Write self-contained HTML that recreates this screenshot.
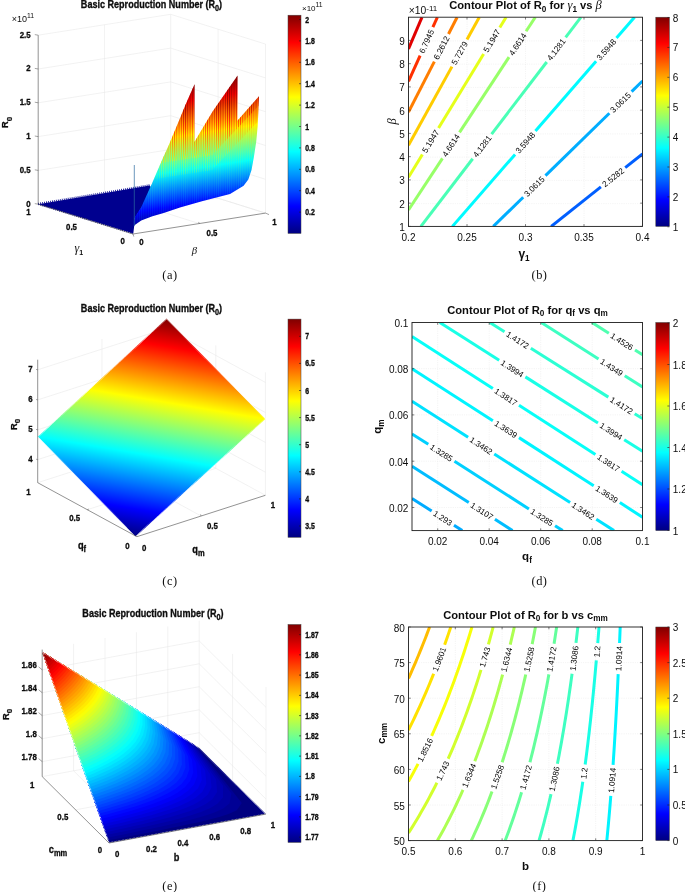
<!DOCTYPE html><html><head><meta charset="utf-8"><style>html,body{margin:0;padding:0;background:#fff;}body{width:685px;height:892px;overflow:hidden;font-family:'Liberation Sans',sans-serif;}</style></head><body><svg width="685" height="892" viewBox="0 0 685 892" style="display:block;filter:blur(0.3px);font-family:'Liberation Sans',sans-serif;"><defs>
<linearGradient id="cb" x1="0" y1="1" x2="0" y2="0"><stop offset="0.0000" stop-color="#000080"/><stop offset="0.1250" stop-color="#0000ff"/><stop offset="0.2500" stop-color="#0080ff"/><stop offset="0.3750" stop-color="#00ffff"/><stop offset="0.5000" stop-color="#80ff80"/><stop offset="0.6250" stop-color="#ffff00"/><stop offset="0.7500" stop-color="#ff8000"/><stop offset="0.8750" stop-color="#ff0000"/><stop offset="1.0000" stop-color="#800000"/></linearGradient>
</defs>
<line x1="38.20" y1="204.20" x2="170.70" y2="183.30" stroke="#e4e4e4" stroke-width="0.50" />
<line x1="170.70" y1="183.30" x2="265.50" y2="213.10" stroke="#e4e4e4" stroke-width="0.50" />
<line x1="85.60" y1="219.10" x2="218.10" y2="198.20" stroke="#e4e4e4" stroke-width="0.50" />
<line x1="199.25" y1="223.55" x2="104.45" y2="193.75" stroke="#e4e4e4" stroke-width="0.50" />
<line x1="170.70" y1="183.30" x2="170.70" y2="14.30" stroke="#e4e4e4" stroke-width="0.50" />
<line x1="265.50" y1="213.10" x2="265.50" y2="44.10" stroke="#e4e4e4" stroke-width="0.50" />
<line x1="104.45" y1="193.75" x2="104.45" y2="24.75" stroke="#e4e4e4" stroke-width="0.50" />
<line x1="218.10" y1="198.20" x2="218.10" y2="29.20" stroke="#e4e4e4" stroke-width="0.50" />
<line x1="38.20" y1="204.20" x2="170.70" y2="183.30" stroke="#e4e4e4" stroke-width="0.50" />
<line x1="170.70" y1="183.30" x2="265.50" y2="213.10" stroke="#e4e4e4" stroke-width="0.50" />
<line x1="38.20" y1="170.40" x2="170.70" y2="149.50" stroke="#e4e4e4" stroke-width="0.50" />
<line x1="170.70" y1="149.50" x2="265.50" y2="179.30" stroke="#e4e4e4" stroke-width="0.50" />
<line x1="38.20" y1="136.60" x2="170.70" y2="115.70" stroke="#e4e4e4" stroke-width="0.50" />
<line x1="170.70" y1="115.70" x2="265.50" y2="145.50" stroke="#e4e4e4" stroke-width="0.50" />
<line x1="38.20" y1="102.80" x2="170.70" y2="81.90" stroke="#e4e4e4" stroke-width="0.50" />
<line x1="170.70" y1="81.90" x2="265.50" y2="111.70" stroke="#e4e4e4" stroke-width="0.50" />
<line x1="38.20" y1="69.00" x2="170.70" y2="48.10" stroke="#e4e4e4" stroke-width="0.50" />
<line x1="170.70" y1="48.10" x2="265.50" y2="77.90" stroke="#e4e4e4" stroke-width="0.50" />
<line x1="38.20" y1="35.20" x2="170.70" y2="14.30" stroke="#e4e4e4" stroke-width="0.50" />
<line x1="170.70" y1="14.30" x2="265.50" y2="44.10" stroke="#e4e4e4" stroke-width="0.50" />
<polygon points="38.20,204.20 149.60,185.50 158.00,196.00 141.00,208.50 134.60,218.50 134.20,226.00 133.30,233.60" fill="#00008f" />
<path d="M38.2 204.2 L133.3 233.6" stroke="#00008f" stroke-width="1.6" stroke-dasharray="0.8 1.2" fill="none"/>
<path d="M38.2 203.6 L149.6 185.0" stroke="#00008f" stroke-width="1.6" stroke-dasharray="0.8 1.2" fill="none"/>
<linearGradient id="ga" gradientUnits="userSpaceOnUse" x1="133.00" y1="229.80" x2="112.37" y2="94.96"><stop offset="0.0000" stop-color="#000080"/><stop offset="0.1250" stop-color="#0000ff"/><stop offset="0.2500" stop-color="#0080ff"/><stop offset="0.3750" stop-color="#00ffff"/><stop offset="0.5000" stop-color="#80ff80"/><stop offset="0.6250" stop-color="#ffff00"/><stop offset="0.7500" stop-color="#ff8000"/><stop offset="0.8750" stop-color="#ff0000"/><stop offset="1.0000" stop-color="#800000"/></linearGradient>
<polygon points="133.40,223.00 134.50,217.40 141.20,207.30 152.40,182.60 162.50,159.00 168.10,146.70 174.90,130.40 179.60,119.30 185.50,104.70 194.50,84.20 194.40,142.00 212.60,111.50 237.60,75.50 237.40,120.80 259.00,96.30 257.70,126.10 256.20,141.80 253.80,157.50 251.50,170.00 248.30,179.40 243.60,185.70 235.80,190.60 230.00,193.90 201.90,201.20 180.00,207.40 163.70,212.90 152.40,216.30 141.20,220.40 133.40,226.00" fill="url(#ga)" />
<linearGradient id="ga2" gradientUnits="userSpaceOnUse" x1="133.00" y1="255.80" x2="112.37" y2="120.96"><stop offset="0.0000" stop-color="#000080"/><stop offset="0.1250" stop-color="#0000ff"/><stop offset="0.2500" stop-color="#0080ff"/><stop offset="0.3750" stop-color="#00ffff"/><stop offset="0.5000" stop-color="#80ff80"/><stop offset="0.6250" stop-color="#ffff00"/><stop offset="0.7500" stop-color="#ff8000"/><stop offset="0.8750" stop-color="#ff0000"/><stop offset="1.0000" stop-color="#800000"/></linearGradient>
<clipPath id="csA"><polygon points="133.40,223.00 134.50,217.40 141.20,207.30 152.40,182.60 162.50,159.00 168.10,146.70 174.90,130.40 179.60,119.30 185.50,104.70 194.50,84.20 194.40,142.00 212.60,111.50 237.60,75.50 237.40,120.80 259.00,96.30 257.70,126.10 256.20,141.80 253.80,157.50 251.50,170.00 248.30,179.40 243.60,185.70 235.80,190.60 230.00,193.90 201.90,201.20 180.00,207.40 163.70,212.90 152.40,216.30 141.20,220.40 133.40,226.00"/></clipPath>
<clipPath id="csB"><polygon points="130,242.04 262,102.12 262,60 130,60"/></clipPath>
<clipPath id="csC"><polygon points="130,257.04 262,117.12 262,60 130,60"/></clipPath>
<clipPath id="csD"><polygon points="128,167.90 264,147.10 264,60 128,60"/></clipPath>
<clipPath id="csE"><polygon points="128,183.08 264,162.28 264,60 128,60"/></clipPath>
<pattern id="stp" patternUnits="userSpaceOnUse" x="150" y="0" width="2.2" height="200"><rect x="0" y="0" width="0.9" height="200" fill="#fff"/></pattern>
<mask id="stm" maskUnits="userSpaceOnUse" x="120" y="50" width="160" height="200"><rect x="120" y="50" width="160" height="200" fill="url(#stp)"/></mask>
<g clip-path="url(#csA)"><g mask="url(#stm)">
<g clip-path="url(#csD)"><rect x="130" y="60" width="135" height="175" fill="url(#ga2)" opacity="0.7" clip-path="url(#csB)"/></g>
<g clip-path="url(#csE)"><rect x="130" y="60" width="135" height="175" fill="url(#ga2)" opacity="0.3" clip-path="url(#csC)"/></g>
<rect x="130" y="60" width="135" height="175" fill="url(#ga2)" opacity="0.15"/>
</g></g>
<line x1="134.30" y1="165.00" x2="134.30" y2="226.00" stroke="#2b6aa0" stroke-width="0.70" />
<line x1="38.20" y1="204.20" x2="38.20" y2="35.20" stroke="#4a4a4a" stroke-width="0.60" />
<line x1="38.20" y1="204.20" x2="133.00" y2="234.00" stroke="#4a4a4a" stroke-width="0.60" />
<line x1="133.00" y1="234.00" x2="265.50" y2="213.10" stroke="#4a4a4a" stroke-width="0.60" />
<line x1="34.80" y1="203.60" x2="38.20" y2="204.20" stroke="#4a4a4a" stroke-width="0.50" />
<text transform="translate(30.60 206.65) scale(0.985 1.19)" x="0" y="0" text-anchor="end" fill="#0d0d0d" stroke="#0d0d0d" stroke-width="0.28" style="font-size:8.00px;font-weight:bold;" >0</text>
<line x1="34.80" y1="169.80" x2="38.20" y2="170.40" stroke="#4a4a4a" stroke-width="0.50" />
<text transform="translate(30.60 172.85) scale(0.985 1.19)" x="0" y="0" text-anchor="end" fill="#0d0d0d" stroke="#0d0d0d" stroke-width="0.28" style="font-size:8.00px;font-weight:bold;" >0.5</text>
<line x1="34.80" y1="136.00" x2="38.20" y2="136.60" stroke="#4a4a4a" stroke-width="0.50" />
<text transform="translate(30.60 139.05) scale(0.985 1.19)" x="0" y="0" text-anchor="end" fill="#0d0d0d" stroke="#0d0d0d" stroke-width="0.28" style="font-size:8.00px;font-weight:bold;" >1</text>
<line x1="34.80" y1="102.20" x2="38.20" y2="102.80" stroke="#4a4a4a" stroke-width="0.50" />
<text transform="translate(30.60 105.25) scale(0.985 1.19)" x="0" y="0" text-anchor="end" fill="#0d0d0d" stroke="#0d0d0d" stroke-width="0.28" style="font-size:8.00px;font-weight:bold;" >1.5</text>
<line x1="34.80" y1="68.40" x2="38.20" y2="69.00" stroke="#4a4a4a" stroke-width="0.50" />
<text transform="translate(30.60 71.45) scale(0.985 1.19)" x="0" y="0" text-anchor="end" fill="#0d0d0d" stroke="#0d0d0d" stroke-width="0.28" style="font-size:8.00px;font-weight:bold;" >2</text>
<line x1="34.80" y1="34.60" x2="38.20" y2="35.20" stroke="#4a4a4a" stroke-width="0.50" />
<text transform="translate(30.60 37.65) scale(0.985 1.19)" x="0" y="0" text-anchor="end" fill="#0d0d0d" stroke="#0d0d0d" stroke-width="0.28" style="font-size:8.00px;font-weight:bold;" >2.5</text>
<text x="11.80" y="22.00" text-anchor="start" fill="#0d0d0d" style="font-size:9.00px;" >×10<tspan dy="-4.2" font-size="6.8">11</tspan></text>
<text transform="translate(8.3 122.5) rotate(-90)" text-anchor="middle" fill="#0d0d0d" stroke="#0d0d0d" stroke-width="0.25" style="font-weight:bold;font-size:9.4px">R<tspan dy="3.6" font-size="8">0</tspan></text>
<text transform="translate(28.50 215.05) scale(0.985 1.19)" x="0" y="0" text-anchor="middle" fill="#0d0d0d" stroke="#0d0d0d" stroke-width="0.28" style="font-size:8.00px;font-weight:bold;" >1</text>
<text transform="translate(71.50 229.55) scale(0.985 1.19)" x="0" y="0" text-anchor="middle" fill="#0d0d0d" stroke="#0d0d0d" stroke-width="0.28" style="font-size:8.00px;font-weight:bold;" >0.5</text>
<text transform="translate(122.60 244.35) scale(0.985 1.19)" x="0" y="0" text-anchor="middle" fill="#0d0d0d" stroke="#0d0d0d" stroke-width="0.28" style="font-size:8.00px;font-weight:bold;" >0</text>
<text transform="translate(141.50 244.55) scale(0.985 1.19)" x="0" y="0" text-anchor="middle" fill="#0d0d0d" stroke="#0d0d0d" stroke-width="0.28" style="font-size:8.00px;font-weight:bold;" >0</text>
<text transform="translate(212.00 235.55) scale(0.985 1.19)" x="0" y="0" text-anchor="middle" fill="#0d0d0d" stroke="#0d0d0d" stroke-width="0.28" style="font-size:8.00px;font-weight:bold;" >0.5</text>
<text transform="translate(274.50 224.55) scale(0.985 1.19)" x="0" y="0" text-anchor="middle" fill="#0d0d0d" stroke="#0d0d0d" stroke-width="0.28" style="font-size:8.00px;font-weight:bold;" >1</text>
<line x1="85.60" y1="219.10" x2="87.10" y2="218.70" stroke="#4a4a4a" stroke-width="0.50" />
<line x1="199.25" y1="223.55" x2="198.65" y2="221.95" stroke="#4a4a4a" stroke-width="0.50" />
<line x1="265.50" y1="213.10" x2="269.00" y2="214.60" stroke="#4a4a4a" stroke-width="0.50" />
<line x1="133.00" y1="234.00" x2="133.80" y2="236.60" stroke="#4a4a4a" stroke-width="0.50" />
<text x="78.80" y="251.60" text-anchor="middle" fill="#0d0d0d" style="font-size:8.00px;" ><tspan style="font-family:'Liberation Serif',serif;font-style:italic;font-size:12px">γ</tspan><tspan dy="3.4" font-size="7" font-weight="bold">1</tspan></text>
<text x="194.50" y="254.00" text-anchor="middle" fill="#0d0d0d" style="font-size:8.00px;" ><tspan style="font-family:'Liberation Serif',serif;font-style:italic;font-size:10.8px">β</tspan></text>
<text transform="translate(151.50 7.55) scale(0.985 1.19)" x="0" y="0" text-anchor="middle" fill="#0d0d0d" stroke="#0d0d0d" stroke-width="0.28" style="font-size:9.20px;font-weight:bold;" >Basic Reproduction Number (R<tspan dy="2.6" font-size="7.4">0</tspan><tspan dy="-2.6">)</tspan></text>
<text x="170.00" y="279.20" text-anchor="middle" fill="#0d0d0d" style="font-size:12.40px;font-family:'Liberation Serif',serif;" letter-spacing="0.5">(a)</text>
<rect x="288.00" y="15.20" width="13.00" height="218.20" fill="url(#cb)"/>
<rect x="288.00" y="15.20" width="13.00" height="218.20" fill="none" stroke="#404040" stroke-width="0.5"/>
<line x1="299.00" y1="19.50" x2="301.00" y2="19.50" stroke="#1a1a1a" stroke-width="0.60" />
<text transform="translate(305.20 22.58) scale(0.985 1.19)" x="0" y="0" text-anchor="start" fill="#0d0d0d" stroke="#0d0d0d" stroke-width="0.28" style="font-size:7.04px;font-weight:bold;" >2</text>
<line x1="299.00" y1="40.90" x2="301.00" y2="40.90" stroke="#1a1a1a" stroke-width="0.60" />
<text transform="translate(305.20 43.98) scale(0.985 1.19)" x="0" y="0" text-anchor="start" fill="#0d0d0d" stroke="#0d0d0d" stroke-width="0.28" style="font-size:7.04px;font-weight:bold;" >1.8</text>
<line x1="299.00" y1="62.30" x2="301.00" y2="62.30" stroke="#1a1a1a" stroke-width="0.60" />
<text transform="translate(305.20 65.38) scale(0.985 1.19)" x="0" y="0" text-anchor="start" fill="#0d0d0d" stroke="#0d0d0d" stroke-width="0.28" style="font-size:7.04px;font-weight:bold;" >1.6</text>
<line x1="299.00" y1="83.70" x2="301.00" y2="83.70" stroke="#1a1a1a" stroke-width="0.60" />
<text transform="translate(305.20 86.78) scale(0.985 1.19)" x="0" y="0" text-anchor="start" fill="#0d0d0d" stroke="#0d0d0d" stroke-width="0.28" style="font-size:7.04px;font-weight:bold;" >1.4</text>
<line x1="299.00" y1="105.10" x2="301.00" y2="105.10" stroke="#1a1a1a" stroke-width="0.60" />
<text transform="translate(305.20 108.18) scale(0.985 1.19)" x="0" y="0" text-anchor="start" fill="#0d0d0d" stroke="#0d0d0d" stroke-width="0.28" style="font-size:7.04px;font-weight:bold;" >1.2</text>
<line x1="299.00" y1="126.50" x2="301.00" y2="126.50" stroke="#1a1a1a" stroke-width="0.60" />
<text transform="translate(305.20 129.58) scale(0.985 1.19)" x="0" y="0" text-anchor="start" fill="#0d0d0d" stroke="#0d0d0d" stroke-width="0.28" style="font-size:7.04px;font-weight:bold;" >1</text>
<line x1="299.00" y1="147.90" x2="301.00" y2="147.90" stroke="#1a1a1a" stroke-width="0.60" />
<text transform="translate(305.20 150.98) scale(0.985 1.19)" x="0" y="0" text-anchor="start" fill="#0d0d0d" stroke="#0d0d0d" stroke-width="0.28" style="font-size:7.04px;font-weight:bold;" >0.8</text>
<line x1="299.00" y1="169.30" x2="301.00" y2="169.30" stroke="#1a1a1a" stroke-width="0.60" />
<text transform="translate(305.20 172.38) scale(0.985 1.19)" x="0" y="0" text-anchor="start" fill="#0d0d0d" stroke="#0d0d0d" stroke-width="0.28" style="font-size:7.04px;font-weight:bold;" >0.6</text>
<line x1="299.00" y1="190.70" x2="301.00" y2="190.70" stroke="#1a1a1a" stroke-width="0.60" />
<text transform="translate(305.20 193.78) scale(0.985 1.19)" x="0" y="0" text-anchor="start" fill="#0d0d0d" stroke="#0d0d0d" stroke-width="0.28" style="font-size:7.04px;font-weight:bold;" >0.4</text>
<line x1="299.00" y1="212.10" x2="301.00" y2="212.10" stroke="#1a1a1a" stroke-width="0.60" />
<text transform="translate(305.20 215.18) scale(0.985 1.19)" x="0" y="0" text-anchor="start" fill="#0d0d0d" stroke="#0d0d0d" stroke-width="0.28" style="font-size:7.04px;font-weight:bold;" >0.2</text>
<text x="302.00" y="10.80" text-anchor="start" fill="#0d0d0d" style="font-size:8.00px;" >×10<tspan dy="-4.0" font-size="6.80">11</tspan></text>
<line x1="37.70" y1="482.70" x2="166.20" y2="441.30" stroke="#e4e4e4" stroke-width="0.50" />
<line x1="166.20" y1="441.30" x2="265.40" y2="495.30" stroke="#e4e4e4" stroke-width="0.50" />
<line x1="87.30" y1="509.70" x2="215.80" y2="468.30" stroke="#e4e4e4" stroke-width="0.50" />
<line x1="201.15" y1="516.00" x2="101.95" y2="462.00" stroke="#e4e4e4" stroke-width="0.50" />
<line x1="166.20" y1="441.30" x2="166.20" y2="318.30" stroke="#e4e4e4" stroke-width="0.50" />
<line x1="265.40" y1="495.30" x2="265.40" y2="372.30" stroke="#e4e4e4" stroke-width="0.50" />
<line x1="101.95" y1="462.00" x2="101.95" y2="339.00" stroke="#e4e4e4" stroke-width="0.50" />
<line x1="215.80" y1="468.30" x2="215.80" y2="345.30" stroke="#e4e4e4" stroke-width="0.50" />
<line x1="37.70" y1="459.60" x2="166.20" y2="418.20" stroke="#e4e4e4" stroke-width="0.50" />
<line x1="166.20" y1="418.20" x2="265.40" y2="472.20" stroke="#e4e4e4" stroke-width="0.50" />
<line x1="37.70" y1="429.80" x2="166.20" y2="388.40" stroke="#e4e4e4" stroke-width="0.50" />
<line x1="166.20" y1="388.40" x2="265.40" y2="442.40" stroke="#e4e4e4" stroke-width="0.50" />
<line x1="37.70" y1="399.90" x2="166.20" y2="358.50" stroke="#e4e4e4" stroke-width="0.50" />
<line x1="166.20" y1="358.50" x2="265.40" y2="412.50" stroke="#e4e4e4" stroke-width="0.50" />
<line x1="37.70" y1="369.80" x2="166.20" y2="328.40" stroke="#e4e4e4" stroke-width="0.50" />
<line x1="166.20" y1="328.40" x2="265.40" y2="382.40" stroke="#e4e4e4" stroke-width="0.50" />
<linearGradient id="gc" gradientUnits="userSpaceOnUse" x1="135.50" y1="536.80" x2="172.12" y2="319.53"><stop offset="0.0000" stop-color="#000080"/><stop offset="0.1250" stop-color="#0000ff"/><stop offset="0.2500" stop-color="#0080ff"/><stop offset="0.3750" stop-color="#00ffff"/><stop offset="0.5000" stop-color="#80ff80"/><stop offset="0.6250" stop-color="#ffff00"/><stop offset="0.7500" stop-color="#ff8000"/><stop offset="0.8750" stop-color="#ff0000"/><stop offset="1.0000" stop-color="#800000"/></linearGradient>
<polygon points="166.60,318.60 265.60,418.90 135.50,536.80 37.70,436.80" fill="url(#gc)" />
<path d="M37.70 436.80 L166.60 318.60" stroke="#fff" stroke-width="1.5" stroke-dasharray="0.55 0.85" fill="none"/>
<path d="M166.60 318.60 L265.60 418.90" stroke="#fff" stroke-width="1.5" stroke-dasharray="0.55 0.85" fill="none"/>
<path d="M265.60 418.90 L135.50 536.80" stroke="#fff" stroke-width="1.5" stroke-dasharray="0.55 0.85" fill="none"/>
<path d="M135.50 536.80 L37.70 436.80" stroke="#fff" stroke-width="1.5" stroke-dasharray="0.55 0.85" fill="none"/>
<line x1="37.70" y1="482.70" x2="37.70" y2="359.70" stroke="#4a4a4a" stroke-width="0.60" />
<line x1="37.70" y1="482.70" x2="136.90" y2="536.70" stroke="#4a4a4a" stroke-width="0.60" />
<line x1="136.90" y1="536.70" x2="265.40" y2="495.30" stroke="#4a4a4a" stroke-width="0.60" />
<line x1="36.10" y1="459.20" x2="37.70" y2="459.60" stroke="#4a4a4a" stroke-width="0.50" />
<text transform="translate(32.70 461.75) scale(0.985 1.19)" x="0" y="0" text-anchor="end" fill="#0d0d0d" stroke="#0d0d0d" stroke-width="0.28" style="font-size:8.00px;font-weight:bold;" >4</text>
<line x1="36.10" y1="429.40" x2="37.70" y2="429.80" stroke="#4a4a4a" stroke-width="0.50" />
<text transform="translate(32.70 431.95) scale(0.985 1.19)" x="0" y="0" text-anchor="end" fill="#0d0d0d" stroke="#0d0d0d" stroke-width="0.28" style="font-size:8.00px;font-weight:bold;" >5</text>
<line x1="36.10" y1="399.50" x2="37.70" y2="399.90" stroke="#4a4a4a" stroke-width="0.50" />
<text transform="translate(32.70 402.05) scale(0.985 1.19)" x="0" y="0" text-anchor="end" fill="#0d0d0d" stroke="#0d0d0d" stroke-width="0.28" style="font-size:8.00px;font-weight:bold;" >6</text>
<line x1="36.10" y1="369.40" x2="37.70" y2="369.80" stroke="#4a4a4a" stroke-width="0.50" />
<text transform="translate(32.70 371.95) scale(0.985 1.19)" x="0" y="0" text-anchor="end" fill="#0d0d0d" stroke="#0d0d0d" stroke-width="0.28" style="font-size:8.00px;font-weight:bold;" >7</text>
<text transform="translate(16.5 424.5) rotate(-90)" text-anchor="middle" fill="#0d0d0d" stroke="#0d0d0d" stroke-width="0.25" style="font-weight:bold;font-size:9.4px">R<tspan dy="3.6" font-size="8">0</tspan></text>
<text transform="translate(28.40 494.55) scale(0.985 1.19)" x="0" y="0" text-anchor="middle" fill="#0d0d0d" stroke="#0d0d0d" stroke-width="0.28" style="font-size:8.00px;font-weight:bold;" >1</text>
<text transform="translate(74.60 521.35) scale(0.985 1.19)" x="0" y="0" text-anchor="middle" fill="#0d0d0d" stroke="#0d0d0d" stroke-width="0.28" style="font-size:8.00px;font-weight:bold;" >0.5</text>
<text transform="translate(127.40 549.35) scale(0.985 1.19)" x="0" y="0" text-anchor="middle" fill="#0d0d0d" stroke="#0d0d0d" stroke-width="0.28" style="font-size:8.00px;font-weight:bold;" >0</text>
<text transform="translate(144.20 550.55) scale(0.985 1.19)" x="0" y="0" text-anchor="middle" fill="#0d0d0d" stroke="#0d0d0d" stroke-width="0.28" style="font-size:8.00px;font-weight:bold;" >0</text>
<text transform="translate(212.40 528.55) scale(0.985 1.19)" x="0" y="0" text-anchor="middle" fill="#0d0d0d" stroke="#0d0d0d" stroke-width="0.28" style="font-size:8.00px;font-weight:bold;" >0.5</text>
<text transform="translate(273.00 507.55) scale(0.985 1.19)" x="0" y="0" text-anchor="middle" fill="#0d0d0d" stroke="#0d0d0d" stroke-width="0.28" style="font-size:8.00px;font-weight:bold;" >1</text>
<line x1="87.30" y1="509.70" x2="88.80" y2="509.10" stroke="#4a4a4a" stroke-width="0.50" />
<line x1="201.15" y1="516.00" x2="200.55" y2="514.40" stroke="#4a4a4a" stroke-width="0.50" />
<text transform="translate(82.00 549.05) scale(0.985 1.19)" x="0" y="0" text-anchor="middle" fill="#0d0d0d" stroke="#0d0d0d" stroke-width="0.28" style="font-size:9.40px;font-weight:bold;" >q<tspan dy="2.4" font-size="7.6">f</tspan></text>
<text transform="translate(198.50 553.05) scale(0.985 1.19)" x="0" y="0" text-anchor="middle" fill="#0d0d0d" stroke="#0d0d0d" stroke-width="0.28" style="font-size:9.40px;font-weight:bold;" >q<tspan dy="2.4" font-size="7.6">m</tspan></text>
<text transform="translate(151.50 312.05) scale(0.985 1.19)" x="0" y="0" text-anchor="middle" fill="#0d0d0d" stroke="#0d0d0d" stroke-width="0.28" style="font-size:9.20px;font-weight:bold;" >Basic Reproduction Number (R<tspan dy="2.6" font-size="7.4">0</tspan><tspan dy="-2.6">)</tspan></text>
<text x="170.00" y="584.70" text-anchor="middle" fill="#0d0d0d" style="font-size:12.40px;font-family:'Liberation Serif',serif;" letter-spacing="0.5">(c)</text>
<rect x="288.00" y="319.10" width="13.00" height="218.20" fill="url(#cb)"/>
<rect x="288.00" y="319.10" width="13.00" height="218.20" fill="none" stroke="#404040" stroke-width="0.5"/>
<line x1="299.00" y1="336.30" x2="301.00" y2="336.30" stroke="#1a1a1a" stroke-width="0.60" />
<text transform="translate(305.20 339.38) scale(0.985 1.19)" x="0" y="0" text-anchor="start" fill="#0d0d0d" stroke="#0d0d0d" stroke-width="0.28" style="font-size:7.04px;font-weight:bold;" >7</text>
<line x1="299.00" y1="363.40" x2="301.00" y2="363.40" stroke="#1a1a1a" stroke-width="0.60" />
<text transform="translate(305.20 366.48) scale(0.985 1.19)" x="0" y="0" text-anchor="start" fill="#0d0d0d" stroke="#0d0d0d" stroke-width="0.28" style="font-size:7.04px;font-weight:bold;" >6.5</text>
<line x1="299.00" y1="390.50" x2="301.00" y2="390.50" stroke="#1a1a1a" stroke-width="0.60" />
<text transform="translate(305.20 393.58) scale(0.985 1.19)" x="0" y="0" text-anchor="start" fill="#0d0d0d" stroke="#0d0d0d" stroke-width="0.28" style="font-size:7.04px;font-weight:bold;" >6</text>
<line x1="299.00" y1="417.60" x2="301.00" y2="417.60" stroke="#1a1a1a" stroke-width="0.60" />
<text transform="translate(305.20 420.68) scale(0.985 1.19)" x="0" y="0" text-anchor="start" fill="#0d0d0d" stroke="#0d0d0d" stroke-width="0.28" style="font-size:7.04px;font-weight:bold;" >5.5</text>
<line x1="299.00" y1="444.70" x2="301.00" y2="444.70" stroke="#1a1a1a" stroke-width="0.60" />
<text transform="translate(305.20 447.78) scale(0.985 1.19)" x="0" y="0" text-anchor="start" fill="#0d0d0d" stroke="#0d0d0d" stroke-width="0.28" style="font-size:7.04px;font-weight:bold;" >5</text>
<line x1="299.00" y1="471.80" x2="301.00" y2="471.80" stroke="#1a1a1a" stroke-width="0.60" />
<text transform="translate(305.20 474.88) scale(0.985 1.19)" x="0" y="0" text-anchor="start" fill="#0d0d0d" stroke="#0d0d0d" stroke-width="0.28" style="font-size:7.04px;font-weight:bold;" >4.5</text>
<line x1="299.00" y1="498.90" x2="301.00" y2="498.90" stroke="#1a1a1a" stroke-width="0.60" />
<text transform="translate(305.20 501.98) scale(0.985 1.19)" x="0" y="0" text-anchor="start" fill="#0d0d0d" stroke="#0d0d0d" stroke-width="0.28" style="font-size:7.04px;font-weight:bold;" >4</text>
<line x1="299.00" y1="526.00" x2="301.00" y2="526.00" stroke="#1a1a1a" stroke-width="0.60" />
<text transform="translate(305.20 529.08) scale(0.985 1.19)" x="0" y="0" text-anchor="start" fill="#0d0d0d" stroke="#0d0d0d" stroke-width="0.28" style="font-size:7.04px;font-weight:bold;" >3.5</text>
<line x1="42.20" y1="776.60" x2="199.20" y2="747.70" stroke="#e4e4e4" stroke-width="0.50" />
<line x1="199.20" y1="747.70" x2="266.00" y2="814.10" stroke="#e4e4e4" stroke-width="0.50" />
<line x1="140.40" y1="837.22" x2="73.60" y2="770.82" stroke="#e4e4e4" stroke-width="0.50" />
<line x1="73.60" y1="770.82" x2="73.60" y2="643.82" stroke="#e4e4e4" stroke-width="0.50" />
<line x1="171.80" y1="831.44" x2="105.00" y2="765.04" stroke="#e4e4e4" stroke-width="0.50" />
<line x1="105.00" y1="765.04" x2="105.00" y2="638.04" stroke="#e4e4e4" stroke-width="0.50" />
<line x1="203.20" y1="825.66" x2="136.40" y2="759.26" stroke="#e4e4e4" stroke-width="0.50" />
<line x1="136.40" y1="759.26" x2="136.40" y2="632.26" stroke="#e4e4e4" stroke-width="0.50" />
<line x1="234.60" y1="819.88" x2="167.80" y2="753.48" stroke="#e4e4e4" stroke-width="0.50" />
<line x1="167.80" y1="753.48" x2="167.80" y2="626.48" stroke="#e4e4e4" stroke-width="0.50" />
<line x1="75.60" y1="809.80" x2="232.60" y2="780.90" stroke="#e4e4e4" stroke-width="0.50" />
<line x1="232.60" y1="780.90" x2="232.60" y2="653.90" stroke="#e4e4e4" stroke-width="0.50" />
<line x1="199.20" y1="747.70" x2="199.20" y2="620.70" stroke="#e4e4e4" stroke-width="0.50" />
<line x1="266.00" y1="814.10" x2="266.00" y2="687.10" stroke="#e4e4e4" stroke-width="0.50" />
<line x1="42.20" y1="761.60" x2="199.20" y2="732.70" stroke="#e4e4e4" stroke-width="0.50" />
<line x1="199.20" y1="732.70" x2="266.00" y2="799.10" stroke="#e4e4e4" stroke-width="0.50" />
<line x1="42.20" y1="738.70" x2="199.20" y2="709.80" stroke="#e4e4e4" stroke-width="0.50" />
<line x1="199.20" y1="709.80" x2="266.00" y2="776.20" stroke="#e4e4e4" stroke-width="0.50" />
<line x1="42.20" y1="715.60" x2="199.20" y2="686.70" stroke="#e4e4e4" stroke-width="0.50" />
<line x1="199.20" y1="686.70" x2="266.00" y2="753.10" stroke="#e4e4e4" stroke-width="0.50" />
<line x1="42.20" y1="692.70" x2="199.20" y2="663.80" stroke="#e4e4e4" stroke-width="0.50" />
<line x1="199.20" y1="663.80" x2="266.00" y2="730.20" stroke="#e4e4e4" stroke-width="0.50" />
<line x1="42.20" y1="669.80" x2="199.20" y2="640.90" stroke="#e4e4e4" stroke-width="0.50" />
<line x1="199.20" y1="640.90" x2="266.00" y2="707.30" stroke="#e4e4e4" stroke-width="0.50" />
<polygon points="109.00,843.00 266.00,814.10 199.20,747.70 42.20,652.00" fill="#000080" />
<polygon points="108.1,840.3 42.2,652.0 197.0,746.4 241.8,803.1 236.8,810.2 228.5,814.1 219.2,817.0 209.5,819.6 199.6,821.9 189.6,824.1 179.5,826.3 169.4,828.3 159.2,830.4 149.0,832.4 138.8,834.4 128.6,836.4 118.3,838.4" fill="#000095"/>
<polygon points="107.1,837.7 42.2,652.0 194.8,745.0 231.4,793.4 229.5,803.5 222.8,808.8 214.5,812.5 205.5,815.6 196.1,818.3 186.6,820.7 176.8,823.1 167.0,825.3 157.1,827.4 147.2,829.6 137.2,831.6 127.2,833.7 117.2,835.7" fill="#0000a3"/>
<polygon points="106.2,835.0 42.2,652.0 192.7,743.7 223.1,785.7 223.0,797.5 217.4,803.8 210.0,808.2 201.6,811.7 192.7,814.7 183.6,817.4 174.2,819.9 164.7,822.2 155.1,824.5 145.4,826.7 135.6,828.8 125.9,830.9 116.1,833.0" fill="#0000b1"/>
<polygon points="105.3,832.4 42.2,652.0 190.5,742.4 216.1,779.5 217.1,792.1 212.4,799.2 205.7,804.1 197.8,807.9 189.4,811.2 180.6,814.1 171.6,816.7 162.3,819.2 153.0,821.6 143.6,823.9 134.1,826.1 124.5,828.2 114.9,830.3" fill="#0000bf"/>
<polygon points="104.4,829.7 42.2,652.0 188.3,741.1 210.1,774.2 211.6,787.2 207.7,794.8 201.5,800.1 194.2,804.3 186.2,807.8 177.7,810.8 169.0,813.6 160.0,816.2 151.0,818.7 141.8,821.0 132.5,823.3 123.2,825.5 113.8,827.6" fill="#0000cd"/>
<polygon points="103.4,827.1 42.2,652.0 186.1,739.7 205.2,770.8 206.4,784.1 202.2,792.0 195.7,797.7 188.0,802.1 179.5,805.9 170.7,809.2 161.5,812.1 152.1,814.9 142.6,817.6 132.9,820.1 123.2,822.5 113.3,824.8" fill="#0000dc"/>
<polygon points="102.5,824.4 42.2,652.0 183.9,738.4 200.5,766.7 201.8,780.0 198.0,788.2 192.0,794.1 184.6,798.7 176.6,802.6 168.0,806.1 159.2,809.2 150.0,812.0 140.7,814.7 131.3,817.3 121.8,819.7 112.2,822.1" fill="#0000ea"/>
<polygon points="101.6,821.8 42.2,652.0 181.8,737.1 196.1,763.0 197.4,776.1 194.0,784.5 188.4,790.6 181.4,795.4 173.7,799.5 165.4,803.0 156.8,806.2 148.0,809.2 138.9,811.9 129.7,814.5 120.4,817.0 111.0,819.4" fill="#0000f8"/>
<polygon points="100.7,819.1 42.2,652.0 179.6,735.7 192.0,759.7 193.3,772.5 190.2,781.0 184.9,787.2 178.2,792.2 170.8,796.4 162.8,800.0 154.5,803.3 145.9,806.3 137.1,809.1 128.2,811.8 119.1,814.3 109.9,816.8" fill="#0007ff"/>
<polygon points="99.7,816.5 42.2,652.0 177.4,734.4 188.2,756.6 189.5,769.2 186.5,777.6 181.5,784.0 175.1,789.0 168.0,793.3 160.3,797.1 152.2,800.4 143.9,803.5 135.3,806.4 126.6,809.1 117.7,811.6 108.8,814.1" fill="#0015ff"/>
<polygon points="98.8,813.8 42.2,652.0 175.2,733.1 185.0,754.8 185.5,767.4 182.0,776.0 176.4,782.5 169.5,787.7 161.9,792.1 153.6,796.0 145.0,799.5 136.1,802.7 127.0,805.7 117.7,808.5 108.3,811.2" fill="#0023ff"/>
<polygon points="97.9,811.2 42.2,652.0 173.0,731.8 181.5,752.0 181.9,764.3 178.6,772.9 173.3,779.4 166.7,784.7 159.3,789.2 151.3,793.1 142.9,796.7 134.3,799.9 125.4,803.0 116.4,805.8 107.2,808.6" fill="#0032ff"/>
<polygon points="96.9,808.5 42.2,652.0 170.9,730.4 178.2,749.4 178.5,761.4 175.3,769.9 170.2,776.4 163.8,781.7 156.7,786.3 149.0,790.3 140.9,793.9 132.5,797.2 123.8,800.3 115.0,803.1 106.0,805.9" fill="#0040ff"/>
<polygon points="96.0,805.9 42.2,652.0 168.7,729.1 175.1,746.9 175.2,758.5 172.1,766.9 167.2,773.5 161.1,778.8 154.2,783.4 146.7,787.5 138.8,791.1 130.6,794.4 122.2,797.5 113.6,800.5 104.9,803.2" fill="#004eff"/>
<polygon points="95.1,803.2 42.2,652.0 166.5,727.8 172.0,744.5 172.0,755.8 169.0,764.1 164.3,770.6 158.3,776.0 151.7,780.6 144.4,784.7 136.8,788.4 128.8,791.7 120.7,794.8 112.3,797.8 103.7,800.6" fill="#005cff"/>
<polygon points="94.2,800.6 42.2,652.0 164.3,726.4 169.2,743.3 168.6,754.6 165.0,763.0 159.6,769.7 153.1,775.2 145.8,779.9 137.9,784.1 129.7,787.9 121.1,791.4 112.3,794.6 103.3,797.7" fill="#006aff"/>
<polygon points="93.2,797.9 42.2,652.0 162.1,725.1 166.3,741.0 165.5,752.0 162.0,760.3 156.8,766.9 150.5,772.4 143.4,777.2 135.8,781.4 127.8,785.2 119.5,788.7 110.9,791.9 102.1,795.0" fill="#0078ff"/>
<polygon points="92.3,795.2 42.2,652.0 159.9,723.8 163.5,738.9 162.6,749.5 159.1,757.7 154.1,764.2 148.0,769.7 141.2,774.5 133.8,778.7 126.0,782.5 117.9,786.0 109.5,789.3 101.0,792.3" fill="#0087ff"/>
<polygon points="91.4,792.6 42.2,652.0 157.8,722.4 160.7,736.7 159.7,747.1 156.3,755.0 151.4,761.5 145.5,767.0 138.9,771.8 131.7,776.0 124.2,779.8 116.3,783.3 108.2,786.6 99.9,789.7" fill="#0095ff"/>
<polygon points="90.4,789.9 42.2,652.0 155.6,721.1 158.0,734.7 156.9,744.7 153.6,752.5 148.8,758.9 143.1,764.3 136.7,769.1 129.7,773.3 122.4,777.1 114.7,780.7 106.8,783.9 98.7,787.0" fill="#00a3ff"/>
<polygon points="89.5,787.3 42.2,652.0 153.4,719.8 155.4,733.7 153.6,743.8 149.7,751.8 144.3,758.4 137.9,763.9 130.8,768.8 123.2,773.1 115.2,777.1 106.9,780.7 98.3,784.1" fill="#00b1ff"/>
<polygon points="88.6,784.6 42.2,652.0 151.2,718.5 152.8,731.7 150.9,741.5 147.1,749.3 141.8,755.8 135.6,761.3 128.7,766.2 121.3,770.5 113.6,774.4 105.5,778.1 97.1,781.4" fill="#00bfff"/>
<polygon points="87.7,782.0 42.2,652.0 149.0,717.1 150.2,729.7 148.3,739.2 144.5,746.9 139.4,753.3 133.3,758.7 126.7,763.5 119.5,767.9 111.9,771.8 104.1,775.4 96.0,778.8" fill="#00cdff"/>
<polygon points="86.7,779.3 42.2,652.0 146.9,715.8 147.6,727.8 145.6,737.0 141.9,744.5 136.9,750.8 131.1,756.2 124.6,761.0 117.7,765.2 110.3,769.2 102.7,772.8 94.8,776.2" fill="#00dcff"/>
<polygon points="85.8,776.7 42.2,652.0 144.7,714.5 145.1,725.9 143.1,734.8 139.4,742.1 134.5,748.3 128.9,753.6 122.6,758.4 115.9,762.6 108.7,766.5 101.3,770.1 93.7,773.5" fill="#00eaff"/>
<polygon points="84.9,774.0 42.2,652.0 142.5,713.1 142.5,725.0 139.9,734.2 135.6,741.7 130.1,748.0 123.7,753.5 116.7,758.4 109.2,762.8 101.4,766.8 93.3,770.5" fill="#00f8ff"/>
<polygon points="84.0,771.4 42.2,652.0 140.3,711.8 140.1,723.1 137.4,732.0 133.2,739.4 127.8,745.6 121.6,751.0 114.8,755.8 107.6,760.2 100.0,764.2 92.1,767.9" fill="#07fff8"/>
<polygon points="83.0,768.7 42.2,652.0 138.1,710.5 137.6,721.3 134.9,729.9 130.8,737.1 125.5,743.2 119.6,748.5 113.0,753.3 106.0,757.6 98.6,761.6 90.9,765.3" fill="#15ffea"/>
<polygon points="82.1,766.1 42.2,652.0 136.0,709.2 135.2,719.5 132.5,727.8 128.4,734.8 123.3,740.8 117.5,746.1 111.2,750.8 104.4,755.1 97.2,759.0 89.8,762.6" fill="#23ffdc"/>
<polygon points="81.2,763.4 42.2,652.0 133.8,707.8 132.8,717.7 130.1,725.7 126.1,732.5 121.1,738.4 115.5,743.6 109.3,748.3 102.7,752.5 95.8,756.4 88.6,760.0" fill="#32ffcd"/>
<polygon points="80.2,760.8 42.2,652.0 131.6,706.5 130.2,716.8 126.9,725.2 122.2,732.3 116.6,738.4 110.2,743.8 103.3,748.6 95.9,753.0 88.2,757.0" fill="#40ffbf"/>
<polygon points="79.3,758.1 42.2,652.0 129.4,705.2 127.9,715.0 124.6,723.2 120.0,730.0 114.5,736.0 108.3,741.3 101.6,746.1 94.5,750.4 87.0,754.4" fill="#4effb1"/>
<polygon points="78.4,755.5 42.2,652.0 127.2,703.8 125.5,713.3 122.2,721.1 117.8,727.8 112.4,733.7 106.5,738.9 100.0,743.5 93.1,747.8 85.9,751.8" fill="#5cffa3"/>
<polygon points="77.5,752.8 42.2,652.0 125.1,702.5 123.2,711.5 119.9,719.1 115.6,725.6 110.4,731.3 104.6,736.4 98.3,741.0 91.7,745.2 84.7,749.2" fill="#6aff95"/>
<polygon points="76.5,750.2 42.2,652.0 122.9,701.2 120.9,709.8 117.7,717.1 113.4,723.4 108.4,729.0 102.8,734.0 96.7,738.5 90.3,742.7 83.5,746.5" fill="#78ff87"/>
<polygon points="75.6,747.5 42.2,652.0 120.7,699.9 118.7,708.1 115.4,715.1 111.2,721.3 106.4,726.7 100.9,731.6 95.1,736.0 88.9,740.1 82.4,743.9" fill="#87ff78"/>
<polygon points="74.7,744.8 42.2,652.0 118.5,698.5 116.0,707.3 112.2,714.7 107.4,721.2 101.8,726.9 95.6,732.0 89.0,736.6 82.0,740.9" fill="#95ff6a"/>
<polygon points="73.7,742.2 42.2,652.0 116.3,697.2 113.8,705.6 110.0,712.7 105.3,719.0 99.9,724.5 94.0,729.5 87.6,734.1 80.8,738.3" fill="#a3ff5c"/>
<polygon points="72.8,739.5 42.2,652.0 114.2,695.9 111.6,703.9 107.8,710.8 103.3,716.8 98.0,722.2 92.3,727.1 86.1,731.6 79.6,735.7" fill="#b1ff4e"/>
<polygon points="71.9,736.9 42.2,652.0 112.0,694.5 109.3,702.2 105.7,708.8 101.2,714.7 96.2,719.9 90.6,724.7 84.7,729.1 78.4,733.1" fill="#bfff40"/>
<polygon points="71.0,734.2 42.2,652.0 109.8,693.2 107.1,700.5 103.5,706.9 99.2,712.5 94.3,717.6 89.0,722.3 83.3,726.6 77.2,730.5" fill="#cdff32"/>
<polygon points="70.0,731.6 42.2,652.0 107.6,691.9 104.5,699.7 100.2,706.6 95.2,712.6 89.6,718.0 83.5,722.9 76.9,727.4" fill="#dcff23"/>
<polygon points="69.1,728.9 42.2,652.0 105.4,690.5 102.3,698.0 98.2,704.6 93.3,710.4 87.9,715.7 82.0,720.4 75.7,724.8" fill="#eaff15"/>
<polygon points="68.2,726.3 42.2,652.0 103.3,689.2 100.1,696.4 96.1,702.6 91.4,708.3 86.2,713.3 80.5,718.0 74.5,722.3" fill="#f8ff07"/>
<polygon points="67.2,723.6 42.2,652.0 101.1,687.9 97.9,694.7 94.0,700.7 89.5,706.1 84.5,711.0 79.1,715.5 73.3,719.7" fill="#fff800"/>
<polygon points="66.3,721.0 42.2,652.0 98.9,686.6 95.8,693.0 92.0,698.8 87.6,704.0 82.8,708.7 77.6,713.1 72.1,717.2" fill="#ffea00"/>
<polygon points="65.4,718.3 42.2,652.0 96.7,685.2 93.1,692.3 88.6,698.6 83.5,704.2 77.9,709.3 71.8,714.0" fill="#ffdc00"/>
<polygon points="64.5,715.7 42.2,652.0 94.5,683.9 90.9,690.6 86.6,696.6 81.7,702.0 76.3,706.9 70.6,711.5" fill="#ffcd00"/>
<polygon points="63.5,713.0 42.2,652.0 92.4,682.6 88.8,688.9 84.7,694.6 80.0,699.8 74.8,704.6 69.3,708.9" fill="#ffbf00"/>
<polygon points="62.6,710.4 42.2,652.0 90.2,681.2 86.7,687.3 82.7,692.7 78.2,697.6 73.3,702.2 68.1,706.4" fill="#ffb100"/>
<polygon points="61.7,707.7 42.2,652.0 88.0,679.9 84.6,685.6 80.8,690.7 76.5,695.5 71.9,699.8 66.9,703.9" fill="#ffa300"/>
<polygon points="60.8,705.1 42.2,652.0 85.8,678.6 81.9,684.9 77.3,690.6 72.2,695.8 66.6,700.6" fill="#ff9500"/>
<polygon points="59.8,702.4 42.2,652.0 83.6,677.3 79.8,683.2 75.4,688.6 70.6,693.6 65.4,698.2" fill="#ff8700"/>
<polygon points="58.9,699.8 42.2,652.0 81.5,675.9 77.8,681.5 73.6,686.6 69.0,691.3 64.1,695.7" fill="#ff7800"/>
<polygon points="58.0,697.1 42.2,652.0 79.3,674.6 75.7,679.8 71.8,684.6 67.5,689.1 62.9,693.2" fill="#ff6a00"/>
<polygon points="57.0,694.4 42.2,652.0 77.1,673.3 73.7,678.1 70.0,682.6 65.9,686.8 61.6,690.8" fill="#ff5c00"/>
<polygon points="56.1,691.8 42.2,652.0 74.9,671.9 70.9,677.5 66.3,682.7 61.4,687.4" fill="#ff4e00"/>
<polygon points="55.2,689.1 42.2,652.0 72.7,670.6 68.9,675.8 64.7,680.6 60.1,685.0" fill="#ff4000"/>
<polygon points="54.3,686.5 42.2,652.0 70.5,669.3 66.9,674.1 63.0,678.5 58.8,682.6" fill="#ff3200"/>
<polygon points="53.3,683.8 42.2,652.0 68.4,667.9 65.0,672.3 61.4,676.4 57.5,680.2" fill="#ff2300"/>
<polygon points="52.4,681.2 42.2,652.0 66.2,666.6 63.1,670.6 59.7,674.3 56.2,677.8" fill="#ff1500"/>
<polygon points="51.5,678.5 42.2,652.0 64.0,665.3 60.1,670.0 56.0,674.4" fill="#ff0700"/>
<polygon points="50.6,675.9 42.2,652.0 61.8,664.0 58.3,668.2 54.6,672.1" fill="#f80000"/>
<polygon points="49.6,673.2 42.2,652.0 59.6,662.6 56.5,666.4 53.2,669.9" fill="#ea0000"/>
<polygon points="48.7,670.6 42.2,652.0 57.5,661.3 54.7,664.5 51.8,667.6" fill="#dc0000"/>
<polygon points="47.8,667.9 42.2,652.0 55.3,660.0 52.9,662.7 50.4,665.4" fill="#cd0000"/>
<polygon points="46.8,665.3 42.2,652.0 53.1,658.6 51.1,660.9 49.0,663.1" fill="#bf0000"/>
<polygon points="45.9,662.6 42.2,652.0 50.9,657.3 49.3,659.1 47.6,660.9" fill="#b10000"/>
<polygon points="45.0,660.0 42.2,652.0 48.7,656.0 47.5,657.3 46.3,658.7" fill="#a30000"/>
<polygon points="44.1,657.3 42.2,652.0 46.6,654.7 45.7,655.6 44.9,656.4" fill="#950000"/>
<polygon points="43.1,654.7 42.2,652.0 44.4,653.3 44.0,653.8 43.5,654.2" fill="#870000"/>
<path d="M42.20 652.00 L199.20 747.70" stroke="#fff" stroke-width="1.5" stroke-dasharray="0.55 0.85" fill="none"/>
<path d="M199.20 747.70 L266.00 814.10" stroke="#fff" stroke-width="1.5" stroke-dasharray="0.55 0.85" fill="none"/>
<path d="M266.00 814.10 L109.00 843.00" stroke="#fff" stroke-width="1.5" stroke-dasharray="0.55 0.85" fill="none"/>
<path d="M109.00 843.00 L42.20 652.00" stroke="#fff" stroke-width="1.5" stroke-dasharray="0.55 0.85" fill="none"/>
<line x1="42.20" y1="776.60" x2="42.20" y2="649.60" stroke="#4a4a4a" stroke-width="0.60" />
<line x1="42.20" y1="776.60" x2="109.00" y2="843.00" stroke="#4a4a4a" stroke-width="0.60" />
<line x1="109.00" y1="843.00" x2="266.00" y2="814.10" stroke="#4a4a4a" stroke-width="0.60" />
<line x1="38.60" y1="758.60" x2="42.20" y2="761.60" stroke="#4a4a4a" stroke-width="0.50" />
<text transform="translate(36.80 760.25) scale(0.985 1.19)" x="0" y="0" text-anchor="end" fill="#0d0d0d" stroke="#0d0d0d" stroke-width="0.28" style="font-size:8.00px;font-weight:bold;" >1.78</text>
<line x1="38.60" y1="735.70" x2="42.20" y2="738.70" stroke="#4a4a4a" stroke-width="0.50" />
<text transform="translate(36.80 737.35) scale(0.985 1.19)" x="0" y="0" text-anchor="end" fill="#0d0d0d" stroke="#0d0d0d" stroke-width="0.28" style="font-size:8.00px;font-weight:bold;" >1.8</text>
<line x1="38.60" y1="712.60" x2="42.20" y2="715.60" stroke="#4a4a4a" stroke-width="0.50" />
<text transform="translate(36.80 714.25) scale(0.985 1.19)" x="0" y="0" text-anchor="end" fill="#0d0d0d" stroke="#0d0d0d" stroke-width="0.28" style="font-size:8.00px;font-weight:bold;" >1.82</text>
<line x1="38.60" y1="689.70" x2="42.20" y2="692.70" stroke="#4a4a4a" stroke-width="0.50" />
<text transform="translate(36.80 691.35) scale(0.985 1.19)" x="0" y="0" text-anchor="end" fill="#0d0d0d" stroke="#0d0d0d" stroke-width="0.28" style="font-size:8.00px;font-weight:bold;" >1.84</text>
<line x1="38.60" y1="666.80" x2="42.20" y2="669.80" stroke="#4a4a4a" stroke-width="0.50" />
<text transform="translate(36.80 668.45) scale(0.985 1.19)" x="0" y="0" text-anchor="end" fill="#0d0d0d" stroke="#0d0d0d" stroke-width="0.28" style="font-size:8.00px;font-weight:bold;" >1.86</text>
<text transform="translate(8.5 714.5) rotate(-90)" text-anchor="middle" fill="#0d0d0d" stroke="#0d0d0d" stroke-width="0.25" style="font-weight:bold;font-size:9.4px">R<tspan dy="3.6" font-size="8">0</tspan></text>
<text transform="translate(32.20 787.75) scale(0.985 1.19)" x="0" y="0" text-anchor="middle" fill="#0d0d0d" stroke="#0d0d0d" stroke-width="0.28" style="font-size:8.00px;font-weight:bold;" >1</text>
<text transform="translate(62.80 820.45) scale(0.985 1.19)" x="0" y="0" text-anchor="middle" fill="#0d0d0d" stroke="#0d0d0d" stroke-width="0.28" style="font-size:8.00px;font-weight:bold;" >0.5</text>
<text transform="translate(100.00 853.05) scale(0.985 1.19)" x="0" y="0" text-anchor="middle" fill="#0d0d0d" stroke="#0d0d0d" stroke-width="0.28" style="font-size:8.00px;font-weight:bold;" >0</text>
<text transform="translate(117.30 857.35) scale(0.985 1.19)" x="0" y="0" text-anchor="middle" fill="#0d0d0d" stroke="#0d0d0d" stroke-width="0.28" style="font-size:8.00px;font-weight:bold;" >0</text>
<text transform="translate(151.50 851.55) scale(0.985 1.19)" x="0" y="0" text-anchor="middle" fill="#0d0d0d" stroke="#0d0d0d" stroke-width="0.28" style="font-size:8.00px;font-weight:bold;" >0.2</text>
<text transform="translate(182.90 845.55) scale(0.985 1.19)" x="0" y="0" text-anchor="middle" fill="#0d0d0d" stroke="#0d0d0d" stroke-width="0.28" style="font-size:8.00px;font-weight:bold;" >0.4</text>
<text transform="translate(214.60 839.85) scale(0.985 1.19)" x="0" y="0" text-anchor="middle" fill="#0d0d0d" stroke="#0d0d0d" stroke-width="0.28" style="font-size:8.00px;font-weight:bold;" >0.6</text>
<text transform="translate(245.70 834.25) scale(0.985 1.19)" x="0" y="0" text-anchor="middle" fill="#0d0d0d" stroke="#0d0d0d" stroke-width="0.28" style="font-size:8.00px;font-weight:bold;" >0.8</text>
<text transform="translate(273.00 828.35) scale(0.985 1.19)" x="0" y="0" text-anchor="middle" fill="#0d0d0d" stroke="#0d0d0d" stroke-width="0.28" style="font-size:8.00px;font-weight:bold;" >1</text>
<text transform="translate(58.00 853.05) scale(0.985 1.19)" x="0" y="0" text-anchor="middle" fill="#0d0d0d" stroke="#0d0d0d" stroke-width="0.28" style="font-size:9.40px;font-weight:bold;" >c<tspan dy="2.4" font-size="7.6">mm</tspan></text>
<text transform="translate(176.60 861.35) scale(0.985 1.19)" x="0" y="0" text-anchor="middle" fill="#0d0d0d" stroke="#0d0d0d" stroke-width="0.28" style="font-size:9.40px;font-weight:bold;" >b</text>
<text transform="translate(153.00 617.05) scale(0.985 1.19)" x="0" y="0" text-anchor="middle" fill="#0d0d0d" stroke="#0d0d0d" stroke-width="0.28" style="font-size:9.20px;font-weight:bold;" >Basic Reproduction Number (R<tspan dy="2.6" font-size="7.4">0</tspan><tspan dy="-2.6">)</tspan></text>
<text x="170.00" y="889.70" text-anchor="middle" fill="#0d0d0d" style="font-size:12.40px;font-family:'Liberation Serif',serif;" letter-spacing="0.5">(e)</text>
<rect x="288.00" y="624.50" width="13.00" height="217.90" fill="url(#cb)"/>
<rect x="288.00" y="624.50" width="13.00" height="217.90" fill="none" stroke="#404040" stroke-width="0.5"/>
<line x1="299.00" y1="634.60" x2="301.00" y2="634.60" stroke="#1a1a1a" stroke-width="0.60" />
<text transform="translate(305.20 637.68) scale(0.985 1.19)" x="0" y="0" text-anchor="start" fill="#0d0d0d" stroke="#0d0d0d" stroke-width="0.28" style="font-size:7.04px;font-weight:bold;" >1.87</text>
<line x1="299.00" y1="654.85" x2="301.00" y2="654.85" stroke="#1a1a1a" stroke-width="0.60" />
<text transform="translate(305.20 657.93) scale(0.985 1.19)" x="0" y="0" text-anchor="start" fill="#0d0d0d" stroke="#0d0d0d" stroke-width="0.28" style="font-size:7.04px;font-weight:bold;" >1.86</text>
<line x1="299.00" y1="675.10" x2="301.00" y2="675.10" stroke="#1a1a1a" stroke-width="0.60" />
<text transform="translate(305.20 678.18) scale(0.985 1.19)" x="0" y="0" text-anchor="start" fill="#0d0d0d" stroke="#0d0d0d" stroke-width="0.28" style="font-size:7.04px;font-weight:bold;" >1.85</text>
<line x1="299.00" y1="695.35" x2="301.00" y2="695.35" stroke="#1a1a1a" stroke-width="0.60" />
<text transform="translate(305.20 698.43) scale(0.985 1.19)" x="0" y="0" text-anchor="start" fill="#0d0d0d" stroke="#0d0d0d" stroke-width="0.28" style="font-size:7.04px;font-weight:bold;" >1.84</text>
<line x1="299.00" y1="715.60" x2="301.00" y2="715.60" stroke="#1a1a1a" stroke-width="0.60" />
<text transform="translate(305.20 718.68) scale(0.985 1.19)" x="0" y="0" text-anchor="start" fill="#0d0d0d" stroke="#0d0d0d" stroke-width="0.28" style="font-size:7.04px;font-weight:bold;" >1.83</text>
<line x1="299.00" y1="735.85" x2="301.00" y2="735.85" stroke="#1a1a1a" stroke-width="0.60" />
<text transform="translate(305.20 738.93) scale(0.985 1.19)" x="0" y="0" text-anchor="start" fill="#0d0d0d" stroke="#0d0d0d" stroke-width="0.28" style="font-size:7.04px;font-weight:bold;" >1.82</text>
<line x1="299.00" y1="756.10" x2="301.00" y2="756.10" stroke="#1a1a1a" stroke-width="0.60" />
<text transform="translate(305.20 759.18) scale(0.985 1.19)" x="0" y="0" text-anchor="start" fill="#0d0d0d" stroke="#0d0d0d" stroke-width="0.28" style="font-size:7.04px;font-weight:bold;" >1.81</text>
<line x1="299.00" y1="776.35" x2="301.00" y2="776.35" stroke="#1a1a1a" stroke-width="0.60" />
<text transform="translate(305.20 779.43) scale(0.985 1.19)" x="0" y="0" text-anchor="start" fill="#0d0d0d" stroke="#0d0d0d" stroke-width="0.28" style="font-size:7.04px;font-weight:bold;" >1.8</text>
<line x1="299.00" y1="796.60" x2="301.00" y2="796.60" stroke="#1a1a1a" stroke-width="0.60" />
<text transform="translate(305.20 799.68) scale(0.985 1.19)" x="0" y="0" text-anchor="start" fill="#0d0d0d" stroke="#0d0d0d" stroke-width="0.28" style="font-size:7.04px;font-weight:bold;" >1.79</text>
<line x1="299.00" y1="816.85" x2="301.00" y2="816.85" stroke="#1a1a1a" stroke-width="0.60" />
<text transform="translate(305.20 819.93) scale(0.985 1.19)" x="0" y="0" text-anchor="start" fill="#0d0d0d" stroke="#0d0d0d" stroke-width="0.28" style="font-size:7.04px;font-weight:bold;" >1.78</text>
<line x1="299.00" y1="837.10" x2="301.00" y2="837.10" stroke="#1a1a1a" stroke-width="0.60" />
<text transform="translate(305.20 840.18) scale(0.985 1.19)" x="0" y="0" text-anchor="start" fill="#0d0d0d" stroke="#0d0d0d" stroke-width="0.28" style="font-size:7.04px;font-weight:bold;" >1.77</text>
<line x1="467.00" y1="17.20" x2="467.00" y2="226.40" stroke="#dcdcdc" stroke-width="0.50" stroke-dasharray="0.6 1.2"/>
<line x1="525.50" y1="17.20" x2="525.50" y2="226.40" stroke="#dcdcdc" stroke-width="0.50" stroke-dasharray="0.6 1.2"/>
<line x1="584.00" y1="17.20" x2="584.00" y2="226.40" stroke="#dcdcdc" stroke-width="0.50" stroke-dasharray="0.6 1.2"/>
<line x1="408.50" y1="40.90" x2="642.50" y2="40.90" stroke="#dcdcdc" stroke-width="0.50" stroke-dasharray="0.6 1.2"/>
<line x1="408.50" y1="64.15" x2="642.50" y2="64.15" stroke="#dcdcdc" stroke-width="0.50" stroke-dasharray="0.6 1.2"/>
<line x1="408.50" y1="87.40" x2="642.50" y2="87.40" stroke="#dcdcdc" stroke-width="0.50" stroke-dasharray="0.6 1.2"/>
<line x1="408.50" y1="110.65" x2="642.50" y2="110.65" stroke="#dcdcdc" stroke-width="0.50" stroke-dasharray="0.6 1.2"/>
<line x1="408.50" y1="133.90" x2="642.50" y2="133.90" stroke="#dcdcdc" stroke-width="0.50" stroke-dasharray="0.6 1.2"/>
<line x1="408.50" y1="157.15" x2="642.50" y2="157.15" stroke="#dcdcdc" stroke-width="0.50" stroke-dasharray="0.6 1.2"/>
<line x1="408.50" y1="180.40" x2="642.50" y2="180.40" stroke="#dcdcdc" stroke-width="0.50" stroke-dasharray="0.6 1.2"/>
<line x1="408.50" y1="203.65" x2="642.50" y2="203.65" stroke="#dcdcdc" stroke-width="0.50" stroke-dasharray="0.6 1.2"/>
<clipPath id="clb"><rect x="408.50" y="17.20" width="234.00" height="209.20"/></clipPath><g clip-path="url(#clb)">
<path d="M408.50 49.00 L422.00 17.20" fill="none" stroke="#e10000" stroke-width="3.00" stroke-linecap="butt"/>
<path d="M408.50 81.30 L420.10 55.56" fill="none" stroke="#ff3000" stroke-width="3.00" stroke-linecap="butt"/>
<path d="M432.88 27.23 L437.40 17.20" fill="none" stroke="#ff3000" stroke-width="3.00" stroke-linecap="butt"/>
<text transform="translate(426.49 41.40) rotate(-65.73)" x="0" y="2.95" text-anchor="middle" fill="#000" style="font-size:8.20px">6.7945</text>
<path d="M408.50 112.10 L434.34 61.64" fill="none" stroke="#ff7e00" stroke-width="3.00" stroke-linecap="butt"/>
<path d="M448.51 33.97 L457.10 17.20" fill="none" stroke="#ff7e00" stroke-width="3.00" stroke-linecap="butt"/>
<text transform="translate(441.43 47.81) rotate(-62.88)" x="0" y="2.95" text-anchor="middle" fill="#000" style="font-size:8.20px">6.2612</text>
<path d="M408.50 145.20 L451.95 66.64" fill="none" stroke="#ffcc00" stroke-width="3.00" stroke-linecap="butt"/>
<path d="M467.00 39.44 L479.30 17.20" fill="none" stroke="#ffcc00" stroke-width="3.00" stroke-linecap="butt"/>
<text transform="translate(459.48 53.04) rotate(-61.05)" x="0" y="2.95" text-anchor="middle" fill="#000" style="font-size:8.20px">5.7279</text>
<path d="M408.50 177.20 L422.37 154.47" fill="none" stroke="#e5ff1a" stroke-width="3.00" stroke-linecap="butt"/>
<path d="M438.55 127.93 L483.61 54.07" fill="none" stroke="#e5ff1a" stroke-width="3.00" stroke-linecap="butt"/>
<path d="M499.80 27.53 L506.10 17.20" fill="none" stroke="#e5ff1a" stroke-width="3.00" stroke-linecap="butt"/>
<text transform="translate(430.46 141.20) rotate(-58.62)" x="0" y="2.95" text-anchor="middle" fill="#000" style="font-size:8.20px">5.1947</text>
<text transform="translate(491.70 40.80) rotate(-58.62)" x="0" y="2.95" text-anchor="middle" fill="#000" style="font-size:8.20px">5.1947</text>
<path d="M408.50 209.90 L442.44 158.33" fill="none" stroke="#97ff68" stroke-width="3.00" stroke-linecap="butt"/>
<path d="M459.52 132.36 L509.01 57.16" fill="none" stroke="#97ff68" stroke-width="3.00" stroke-linecap="butt"/>
<path d="M526.09 31.20 L535.30 17.20" fill="none" stroke="#97ff68" stroke-width="3.00" stroke-linecap="butt"/>
<text transform="translate(450.98 145.35) rotate(-56.65)" x="0" y="2.95" text-anchor="middle" fill="#000" style="font-size:8.20px">4.6614</text>
<text transform="translate(517.55 44.18) rotate(-56.65)" x="0" y="2.95" text-anchor="middle" fill="#000" style="font-size:8.20px">4.6614</text>
<path d="M420.90 226.40 L472.69 158.72" fill="none" stroke="#49ffb6" stroke-width="3.00" stroke-linecap="butt"/>
<path d="M491.58 134.04 L546.74 61.97" fill="none" stroke="#49ffb6" stroke-width="3.00" stroke-linecap="butt"/>
<path d="M565.63 37.29 L581.00 17.20" fill="none" stroke="#49ffb6" stroke-width="3.00" stroke-linecap="butt"/>
<text transform="translate(482.14 146.38) rotate(-52.57)" x="0" y="2.95" text-anchor="middle" fill="#000" style="font-size:8.20px">4.1281</text>
<text transform="translate(556.18 49.63) rotate(-52.57)" x="0" y="2.95" text-anchor="middle" fill="#000" style="font-size:8.20px">4.1281</text>
<path d="M452.40 226.40 L515.04 154.44" fill="none" stroke="#00fbff" stroke-width="3.00" stroke-linecap="butt"/>
<path d="M535.44 131.00 L596.07 61.35" fill="none" stroke="#00fbff" stroke-width="3.00" stroke-linecap="butt"/>
<path d="M616.48 37.91 L634.50 17.20" fill="none" stroke="#00fbff" stroke-width="3.00" stroke-linecap="butt"/>
<text transform="translate(525.24 142.72) rotate(-48.96)" x="0" y="2.95" text-anchor="middle" fill="#000" style="font-size:8.20px">3.5948</text>
<text transform="translate(606.27 49.63) rotate(-48.96)" x="0" y="2.95" text-anchor="middle" fill="#000" style="font-size:8.20px">3.5948</text>
<path d="M493.30 226.40 L523.20 197.26" fill="none" stroke="#00adff" stroke-width="3.00" stroke-linecap="butt"/>
<path d="M545.46 175.57 L609.36 113.29" fill="none" stroke="#00adff" stroke-width="3.00" stroke-linecap="butt"/>
<path d="M631.62 91.60 L642.50 81.00" fill="none" stroke="#00adff" stroke-width="3.00" stroke-linecap="butt"/>
<text transform="translate(534.33 186.41) rotate(-44.26)" x="0" y="2.95" text-anchor="middle" fill="#000" style="font-size:8.20px">3.0615</text>
<text transform="translate(620.49 102.45) rotate(-44.26)" x="0" y="2.95" text-anchor="middle" fill="#000" style="font-size:8.20px">3.0615</text>
<path d="M551.20 226.40 L600.89 186.94" fill="none" stroke="#005fff" stroke-width="3.00" stroke-linecap="butt"/>
<path d="M625.22 167.62 L642.50 153.90" fill="none" stroke="#005fff" stroke-width="3.00" stroke-linecap="butt"/>
<text transform="translate(613.06 177.28) rotate(-38.45)" x="0" y="2.95" text-anchor="middle" fill="#000" style="font-size:8.20px">2.5282</text>
</g>
<rect x="408.50" y="17.20" width="234.00" height="209.20" fill="none" stroke="#1c1c1c" stroke-width="0.9"/>
<line x1="408.50" y1="226.40" x2="408.50" y2="224.10" stroke="#2a2a2a" stroke-width="0.60" />
<line x1="408.50" y1="17.20" x2="408.50" y2="19.50" stroke="#2a2a2a" stroke-width="0.60" />
<text x="408.50" y="240.70" text-anchor="middle" fill="#0d0d0d" style="font-size:10.00px;" >0.2</text>
<line x1="467.00" y1="226.40" x2="467.00" y2="224.10" stroke="#2a2a2a" stroke-width="0.60" />
<line x1="467.00" y1="17.20" x2="467.00" y2="19.50" stroke="#2a2a2a" stroke-width="0.60" />
<text x="467.00" y="240.70" text-anchor="middle" fill="#0d0d0d" style="font-size:10.00px;" >0.25</text>
<line x1="525.50" y1="226.40" x2="525.50" y2="224.10" stroke="#2a2a2a" stroke-width="0.60" />
<line x1="525.50" y1="17.20" x2="525.50" y2="19.50" stroke="#2a2a2a" stroke-width="0.60" />
<text x="525.50" y="240.70" text-anchor="middle" fill="#0d0d0d" style="font-size:10.00px;" >0.3</text>
<line x1="584.00" y1="226.40" x2="584.00" y2="224.10" stroke="#2a2a2a" stroke-width="0.60" />
<line x1="584.00" y1="17.20" x2="584.00" y2="19.50" stroke="#2a2a2a" stroke-width="0.60" />
<text x="584.00" y="240.70" text-anchor="middle" fill="#0d0d0d" style="font-size:10.00px;" >0.35</text>
<line x1="642.50" y1="226.40" x2="642.50" y2="224.10" stroke="#2a2a2a" stroke-width="0.60" />
<line x1="642.50" y1="17.20" x2="642.50" y2="19.50" stroke="#2a2a2a" stroke-width="0.60" />
<text x="642.50" y="240.70" text-anchor="middle" fill="#0d0d0d" style="font-size:10.00px;" >0.4</text>
<line x1="408.50" y1="226.40" x2="410.80" y2="226.40" stroke="#2a2a2a" stroke-width="0.60" />
<line x1="642.50" y1="226.40" x2="640.20" y2="226.40" stroke="#2a2a2a" stroke-width="0.60" />
<text x="404.90" y="230.90" text-anchor="end" fill="#0d0d0d" style="font-size:10.00px;" >1</text>
<line x1="408.50" y1="203.15" x2="410.80" y2="203.15" stroke="#2a2a2a" stroke-width="0.60" />
<line x1="642.50" y1="203.15" x2="640.20" y2="203.15" stroke="#2a2a2a" stroke-width="0.60" />
<text x="404.90" y="207.65" text-anchor="end" fill="#0d0d0d" style="font-size:10.00px;" >2</text>
<line x1="408.50" y1="179.90" x2="410.80" y2="179.90" stroke="#2a2a2a" stroke-width="0.60" />
<line x1="642.50" y1="179.90" x2="640.20" y2="179.90" stroke="#2a2a2a" stroke-width="0.60" />
<text x="404.90" y="184.40" text-anchor="end" fill="#0d0d0d" style="font-size:10.00px;" >3</text>
<line x1="408.50" y1="156.65" x2="410.80" y2="156.65" stroke="#2a2a2a" stroke-width="0.60" />
<line x1="642.50" y1="156.65" x2="640.20" y2="156.65" stroke="#2a2a2a" stroke-width="0.60" />
<text x="404.90" y="161.15" text-anchor="end" fill="#0d0d0d" style="font-size:10.00px;" >4</text>
<line x1="408.50" y1="133.40" x2="410.80" y2="133.40" stroke="#2a2a2a" stroke-width="0.60" />
<line x1="642.50" y1="133.40" x2="640.20" y2="133.40" stroke="#2a2a2a" stroke-width="0.60" />
<text x="404.90" y="137.90" text-anchor="end" fill="#0d0d0d" style="font-size:10.00px;" >5</text>
<line x1="408.50" y1="110.15" x2="410.80" y2="110.15" stroke="#2a2a2a" stroke-width="0.60" />
<line x1="642.50" y1="110.15" x2="640.20" y2="110.15" stroke="#2a2a2a" stroke-width="0.60" />
<text x="404.90" y="114.65" text-anchor="end" fill="#0d0d0d" style="font-size:10.00px;" >6</text>
<line x1="408.50" y1="86.90" x2="410.80" y2="86.90" stroke="#2a2a2a" stroke-width="0.60" />
<line x1="642.50" y1="86.90" x2="640.20" y2="86.90" stroke="#2a2a2a" stroke-width="0.60" />
<text x="404.90" y="91.40" text-anchor="end" fill="#0d0d0d" style="font-size:10.00px;" >7</text>
<line x1="408.50" y1="63.65" x2="410.80" y2="63.65" stroke="#2a2a2a" stroke-width="0.60" />
<line x1="642.50" y1="63.65" x2="640.20" y2="63.65" stroke="#2a2a2a" stroke-width="0.60" />
<text x="404.90" y="68.15" text-anchor="end" fill="#0d0d0d" style="font-size:10.00px;" >8</text>
<line x1="408.50" y1="40.40" x2="410.80" y2="40.40" stroke="#2a2a2a" stroke-width="0.60" />
<line x1="642.50" y1="40.40" x2="640.20" y2="40.40" stroke="#2a2a2a" stroke-width="0.60" />
<text x="404.90" y="44.90" text-anchor="end" fill="#0d0d0d" style="font-size:10.00px;" >9</text>
<text x="408.80" y="14.40" text-anchor="start" fill="#0d0d0d" style="font-size:10.30px;" >×10<tspan dy="-3.8" font-size="8">-11</tspan></text>
<text x="525.50" y="8.70" text-anchor="middle" fill="#0d0d0d" style="font-size:11.20px;font-weight:bold;" >Contour Plot of R<tspan dy="2.8" font-size="8.2">0</tspan><tspan dy="-2.8"> for </tspan><tspan style="font-family:'Liberation Serif',serif;font-style:italic;font-weight:normal;font-size:12.5px">γ</tspan><tspan dy="2.8" font-size="8.2">1</tspan><tspan dy="-2.8"> vs </tspan><tspan style="font-family:'Liberation Serif',serif;font-style:italic;font-weight:normal;font-size:12.5px">β</tspan></text>
<text x="524.00" y="257.80" text-anchor="middle" fill="#0d0d0d" style="font-size:11.50px;font-weight:bold;" ><tspan style="font-size:12px">γ</tspan><tspan dy="2.8" font-size="8.2">1</tspan></text>
<text transform="translate(395.5 121.5) rotate(-90)" text-anchor="middle" fill="#0d0d0d" style="font-family:'Liberation Serif',serif;font-style:italic;font-size:12.5px">β</text>
<text x="539.50" y="279.20" text-anchor="middle" fill="#0d0d0d" style="font-size:12.40px;font-family:'Liberation Serif',serif;" letter-spacing="0.5">(b)</text>
<rect x="655.80" y="17.20" width="13.60" height="209.20" fill="url(#cb)"/>
<rect x="655.80" y="17.20" width="13.60" height="209.20" fill="none" stroke="#404040" stroke-width="0.5"/>
<line x1="667.40" y1="17.50" x2="669.40" y2="17.50" stroke="#1a1a1a" stroke-width="0.60" />
<text x="672.80" y="21.50" text-anchor="start" fill="#0d0d0d" style="font-size:10.00px;" >8</text>
<line x1="667.40" y1="47.40" x2="669.40" y2="47.40" stroke="#1a1a1a" stroke-width="0.60" />
<text x="672.80" y="51.40" text-anchor="start" fill="#0d0d0d" style="font-size:10.00px;" >7</text>
<line x1="667.40" y1="77.30" x2="669.40" y2="77.30" stroke="#1a1a1a" stroke-width="0.60" />
<text x="672.80" y="81.30" text-anchor="start" fill="#0d0d0d" style="font-size:10.00px;" >6</text>
<line x1="667.40" y1="107.20" x2="669.40" y2="107.20" stroke="#1a1a1a" stroke-width="0.60" />
<text x="672.80" y="111.20" text-anchor="start" fill="#0d0d0d" style="font-size:10.00px;" >5</text>
<line x1="667.40" y1="137.10" x2="669.40" y2="137.10" stroke="#1a1a1a" stroke-width="0.60" />
<text x="672.80" y="141.10" text-anchor="start" fill="#0d0d0d" style="font-size:10.00px;" >4</text>
<line x1="667.40" y1="167.00" x2="669.40" y2="167.00" stroke="#1a1a1a" stroke-width="0.60" />
<text x="672.80" y="171.00" text-anchor="start" fill="#0d0d0d" style="font-size:10.00px;" >3</text>
<line x1="667.40" y1="196.90" x2="669.40" y2="196.90" stroke="#1a1a1a" stroke-width="0.60" />
<text x="672.80" y="200.90" text-anchor="start" fill="#0d0d0d" style="font-size:10.00px;" >2</text>
<line x1="667.40" y1="226.80" x2="669.40" y2="226.80" stroke="#1a1a1a" stroke-width="0.60" />
<text x="672.80" y="230.80" text-anchor="start" fill="#0d0d0d" style="font-size:10.00px;" >1</text>
<line x1="437.70" y1="322.50" x2="437.70" y2="530.60" stroke="#dcdcdc" stroke-width="0.50" stroke-dasharray="0.6 1.2"/>
<line x1="489.20" y1="322.50" x2="489.20" y2="530.60" stroke="#dcdcdc" stroke-width="0.50" stroke-dasharray="0.6 1.2"/>
<line x1="540.70" y1="322.50" x2="540.70" y2="530.60" stroke="#dcdcdc" stroke-width="0.50" stroke-dasharray="0.6 1.2"/>
<line x1="592.20" y1="322.50" x2="592.20" y2="530.60" stroke="#dcdcdc" stroke-width="0.50" stroke-dasharray="0.6 1.2"/>
<line x1="412.00" y1="368.70" x2="642.50" y2="368.70" stroke="#dcdcdc" stroke-width="0.50" stroke-dasharray="0.6 1.2"/>
<line x1="412.00" y1="414.90" x2="642.50" y2="414.90" stroke="#dcdcdc" stroke-width="0.50" stroke-dasharray="0.6 1.2"/>
<line x1="412.00" y1="461.20" x2="642.50" y2="461.20" stroke="#dcdcdc" stroke-width="0.50" stroke-dasharray="0.6 1.2"/>
<line x1="412.00" y1="507.50" x2="642.50" y2="507.50" stroke="#dcdcdc" stroke-width="0.50" stroke-dasharray="0.6 1.2"/>
<clipPath id="cld"><rect x="412.00" y="322.50" width="230.50" height="208.10"/></clipPath><g clip-path="url(#cld)">
<path d="M412.00 498.40 L431.64 510.97" fill="none" stroke="#00abff" stroke-width="3.00" stroke-linecap="butt"/>
<path d="M453.98 525.27 L462.30 530.60" fill="none" stroke="#00abff" stroke-width="3.00" stroke-linecap="butt"/>
<text transform="translate(442.81 518.12) rotate(32.63)" x="0" y="2.95" text-anchor="middle" fill="#000" style="font-size:8.20px">1.293</text>
<path d="M412.00 466.20 L468.76 502.57" fill="none" stroke="#00bdff" stroke-width="3.00" stroke-linecap="butt"/>
<path d="M494.93 519.34 L512.50 530.60" fill="none" stroke="#00bdff" stroke-width="3.00" stroke-linecap="butt"/>
<text transform="translate(481.85 510.96) rotate(32.65)" x="0" y="2.95" text-anchor="middle" fill="#000" style="font-size:8.20px">1.3107</text>
<path d="M412.00 433.90 L428.31 444.36" fill="none" stroke="#00d0ff" stroke-width="3.00" stroke-linecap="butt"/>
<path d="M454.46 461.15 L528.90 508.91" fill="none" stroke="#00d0ff" stroke-width="3.00" stroke-linecap="butt"/>
<path d="M555.06 525.70 L562.70 530.60" fill="none" stroke="#00d0ff" stroke-width="3.00" stroke-linecap="butt"/>
<text transform="translate(441.39 452.76) rotate(32.69)" x="0" y="2.95" text-anchor="middle" fill="#000" style="font-size:8.20px">1.3285</text>
<text transform="translate(541.98 517.30) rotate(32.69)" x="0" y="2.95" text-anchor="middle" fill="#000" style="font-size:8.20px">1.3285</text>
<path d="M412.00 401.30 L468.10 437.21" fill="none" stroke="#00e2ff" stroke-width="3.00" stroke-linecap="butt"/>
<path d="M494.27 453.96 L570.11 502.50" fill="none" stroke="#00e2ff" stroke-width="3.00" stroke-linecap="butt"/>
<path d="M596.28 519.26 L614.00 530.60" fill="none" stroke="#00e2ff" stroke-width="3.00" stroke-linecap="butt"/>
<text transform="translate(481.19 445.59) rotate(32.62)" x="0" y="2.95" text-anchor="middle" fill="#000" style="font-size:8.20px">1.3462</text>
<text transform="translate(583.19 510.88) rotate(32.62)" x="0" y="2.95" text-anchor="middle" fill="#000" style="font-size:8.20px">1.3462</text>
<path d="M412.00 368.70 L492.87 420.80" fill="none" stroke="#00f4ff" stroke-width="3.00" stroke-linecap="butt"/>
<path d="M518.99 437.63 L593.71 485.77" fill="none" stroke="#00f4ff" stroke-width="3.00" stroke-linecap="butt"/>
<path d="M619.84 502.60 L642.50 517.20" fill="none" stroke="#00f4ff" stroke-width="3.00" stroke-linecap="butt"/>
<text transform="translate(505.93 429.21) rotate(32.79)" x="0" y="2.95" text-anchor="middle" fill="#000" style="font-size:8.20px">1.3639</text>
<text transform="translate(606.77 494.18) rotate(32.79)" x="0" y="2.95" text-anchor="middle" fill="#000" style="font-size:8.20px">1.3639</text>
<path d="M412.00 336.40 L492.86 388.42" fill="none" stroke="#07fff8" stroke-width="3.00" stroke-linecap="butt"/>
<path d="M519.00 405.24 L595.43 454.42" fill="none" stroke="#07fff8" stroke-width="3.00" stroke-linecap="butt"/>
<path d="M621.57 471.23 L642.50 484.70" fill="none" stroke="#07fff8" stroke-width="3.00" stroke-linecap="butt"/>
<text transform="translate(505.93 396.83) rotate(32.76)" x="0" y="2.95" text-anchor="middle" fill="#000" style="font-size:8.20px">1.3817</text>
<text transform="translate(608.50 462.83) rotate(32.76)" x="0" y="2.95" text-anchor="middle" fill="#000" style="font-size:8.20px">1.3817</text>
<path d="M439.80 322.50 L499.15 360.21" fill="none" stroke="#19ffe6" stroke-width="3.00" stroke-linecap="butt"/>
<path d="M525.38 376.88 L597.97 423.00" fill="none" stroke="#19ffe6" stroke-width="3.00" stroke-linecap="butt"/>
<path d="M624.20 439.67 L642.50 451.30" fill="none" stroke="#19ffe6" stroke-width="3.00" stroke-linecap="butt"/>
<text transform="translate(512.27 368.55) rotate(32.43)" x="0" y="2.95" text-anchor="middle" fill="#000" style="font-size:8.20px">1.3994</text>
<text transform="translate(611.08 431.34) rotate(32.43)" x="0" y="2.95" text-anchor="middle" fill="#000" style="font-size:8.20px">1.3994</text>
<path d="M489.80 322.50 L504.52 331.76" fill="none" stroke="#2bffd4" stroke-width="3.00" stroke-linecap="butt"/>
<path d="M530.82 348.31 L608.35 397.11" fill="none" stroke="#2bffd4" stroke-width="3.00" stroke-linecap="butt"/>
<path d="M634.66 413.66 L642.50 418.60" fill="none" stroke="#2bffd4" stroke-width="3.00" stroke-linecap="butt"/>
<text transform="translate(517.67 340.04) rotate(32.18)" x="0" y="2.95" text-anchor="middle" fill="#000" style="font-size:8.20px">1.4172</text>
<text transform="translate(621.50 405.39) rotate(32.18)" x="0" y="2.95" text-anchor="middle" fill="#000" style="font-size:8.20px">1.4172</text>
<path d="M541.30 322.50 L598.53 358.98" fill="none" stroke="#3dffc2" stroke-width="3.00" stroke-linecap="butt"/>
<path d="M624.74 375.68 L642.50 387.00" fill="none" stroke="#3dffc2" stroke-width="3.00" stroke-linecap="butt"/>
<text transform="translate(611.63 367.33) rotate(32.51)" x="0" y="2.95" text-anchor="middle" fill="#000" style="font-size:8.20px">1.4349</text>
<path d="M592.00 322.50 L608.82 333.22" fill="none" stroke="#4fffb0" stroke-width="3.00" stroke-linecap="butt"/>
<path d="M635.02 349.93 L642.50 354.70" fill="none" stroke="#4fffb0" stroke-width="3.00" stroke-linecap="butt"/>
<text transform="translate(621.92 341.58) rotate(32.52)" x="0" y="2.95" text-anchor="middle" fill="#000" style="font-size:8.20px">1.4526</text>
</g>
<rect x="412.00" y="322.50" width="230.50" height="208.10" fill="none" stroke="#1c1c1c" stroke-width="0.9"/>
<line x1="437.70" y1="530.60" x2="437.70" y2="528.30" stroke="#2a2a2a" stroke-width="0.60" />
<line x1="437.70" y1="322.50" x2="437.70" y2="324.80" stroke="#2a2a2a" stroke-width="0.60" />
<text x="437.70" y="544.90" text-anchor="middle" fill="#0d0d0d" style="font-size:10.00px;" >0.02</text>
<line x1="489.20" y1="530.60" x2="489.20" y2="528.30" stroke="#2a2a2a" stroke-width="0.60" />
<line x1="489.20" y1="322.50" x2="489.20" y2="324.80" stroke="#2a2a2a" stroke-width="0.60" />
<text x="489.20" y="544.90" text-anchor="middle" fill="#0d0d0d" style="font-size:10.00px;" >0.04</text>
<line x1="540.70" y1="530.60" x2="540.70" y2="528.30" stroke="#2a2a2a" stroke-width="0.60" />
<line x1="540.70" y1="322.50" x2="540.70" y2="324.80" stroke="#2a2a2a" stroke-width="0.60" />
<text x="540.70" y="544.90" text-anchor="middle" fill="#0d0d0d" style="font-size:10.00px;" >0.06</text>
<line x1="592.20" y1="530.60" x2="592.20" y2="528.30" stroke="#2a2a2a" stroke-width="0.60" />
<line x1="592.20" y1="322.50" x2="592.20" y2="324.80" stroke="#2a2a2a" stroke-width="0.60" />
<text x="592.20" y="544.90" text-anchor="middle" fill="#0d0d0d" style="font-size:10.00px;" >0.08</text>
<line x1="642.50" y1="530.60" x2="642.50" y2="528.30" stroke="#2a2a2a" stroke-width="0.60" />
<line x1="642.50" y1="322.50" x2="642.50" y2="324.80" stroke="#2a2a2a" stroke-width="0.60" />
<text x="642.50" y="544.90" text-anchor="middle" fill="#0d0d0d" style="font-size:10.00px;" >0.1</text>
<line x1="412.00" y1="322.50" x2="414.30" y2="322.50" stroke="#2a2a2a" stroke-width="0.60" />
<line x1="642.50" y1="322.50" x2="640.20" y2="322.50" stroke="#2a2a2a" stroke-width="0.60" />
<text x="408.40" y="327.00" text-anchor="end" fill="#0d0d0d" style="font-size:10.00px;" >0.1</text>
<line x1="412.00" y1="368.70" x2="414.30" y2="368.70" stroke="#2a2a2a" stroke-width="0.60" />
<line x1="642.50" y1="368.70" x2="640.20" y2="368.70" stroke="#2a2a2a" stroke-width="0.60" />
<text x="408.40" y="373.20" text-anchor="end" fill="#0d0d0d" style="font-size:10.00px;" >0.08</text>
<line x1="412.00" y1="414.90" x2="414.30" y2="414.90" stroke="#2a2a2a" stroke-width="0.60" />
<line x1="642.50" y1="414.90" x2="640.20" y2="414.90" stroke="#2a2a2a" stroke-width="0.60" />
<text x="408.40" y="419.40" text-anchor="end" fill="#0d0d0d" style="font-size:10.00px;" >0.06</text>
<line x1="412.00" y1="461.20" x2="414.30" y2="461.20" stroke="#2a2a2a" stroke-width="0.60" />
<line x1="642.50" y1="461.20" x2="640.20" y2="461.20" stroke="#2a2a2a" stroke-width="0.60" />
<text x="408.40" y="465.70" text-anchor="end" fill="#0d0d0d" style="font-size:10.00px;" >0.04</text>
<line x1="412.00" y1="507.50" x2="414.30" y2="507.50" stroke="#2a2a2a" stroke-width="0.60" />
<line x1="642.50" y1="507.50" x2="640.20" y2="507.50" stroke="#2a2a2a" stroke-width="0.60" />
<text x="408.40" y="512.00" text-anchor="end" fill="#0d0d0d" style="font-size:10.00px;" >0.02</text>
<text x="527.50" y="313.50" text-anchor="middle" fill="#0d0d0d" style="font-size:11.20px;font-weight:bold;" >Contour Plot of R<tspan dy="2.8" font-size="8.2">0</tspan><tspan dy="-2.8"> for q</tspan><tspan dy="2.8" font-size="8.2">f</tspan><tspan dy="-2.8"> vs q</tspan><tspan dy="2.8" font-size="8.2">m</tspan></text>
<text x="527.00" y="560.00" text-anchor="middle" fill="#0d0d0d" style="font-size:11.50px;font-weight:bold;" >q<tspan dy="2.8" font-size="8.2">f</tspan></text>
<text transform="translate(380.8 426.5) rotate(-90)" text-anchor="middle" fill="#0d0d0d" style="font-weight:bold;font-size:11.5px">q<tspan dy="2.8" font-size="8.2">m</tspan></text>
<text x="539.50" y="584.70" text-anchor="middle" fill="#0d0d0d" style="font-size:12.40px;font-family:'Liberation Serif',serif;" letter-spacing="0.5">(d)</text>
<rect x="655.80" y="322.50" width="13.60" height="208.10" fill="url(#cb)"/>
<rect x="655.80" y="322.50" width="13.60" height="208.10" fill="none" stroke="#404040" stroke-width="0.5"/>
<line x1="667.40" y1="323.00" x2="669.40" y2="323.00" stroke="#1a1a1a" stroke-width="0.60" />
<text x="672.80" y="327.00" text-anchor="start" fill="#0d0d0d" style="font-size:10.00px;" >2</text>
<line x1="667.40" y1="364.50" x2="669.40" y2="364.50" stroke="#1a1a1a" stroke-width="0.60" />
<text x="672.80" y="368.50" text-anchor="start" fill="#0d0d0d" style="font-size:10.00px;" >1.8</text>
<line x1="667.40" y1="406.00" x2="669.40" y2="406.00" stroke="#1a1a1a" stroke-width="0.60" />
<text x="672.80" y="410.00" text-anchor="start" fill="#0d0d0d" style="font-size:10.00px;" >1.6</text>
<line x1="667.40" y1="447.50" x2="669.40" y2="447.50" stroke="#1a1a1a" stroke-width="0.60" />
<text x="672.80" y="451.50" text-anchor="start" fill="#0d0d0d" style="font-size:10.00px;" >1.4</text>
<line x1="667.40" y1="489.00" x2="669.40" y2="489.00" stroke="#1a1a1a" stroke-width="0.60" />
<text x="672.80" y="493.00" text-anchor="start" fill="#0d0d0d" style="font-size:10.00px;" >1.2</text>
<line x1="667.40" y1="530.50" x2="669.40" y2="530.50" stroke="#1a1a1a" stroke-width="0.60" />
<text x="672.80" y="534.50" text-anchor="start" fill="#0d0d0d" style="font-size:10.00px;" >1</text>
<line x1="455.30" y1="627.00" x2="455.30" y2="840.60" stroke="#dcdcdc" stroke-width="0.50" stroke-dasharray="0.6 1.2"/>
<line x1="502.10" y1="627.00" x2="502.10" y2="840.60" stroke="#dcdcdc" stroke-width="0.50" stroke-dasharray="0.6 1.2"/>
<line x1="548.90" y1="627.00" x2="548.90" y2="840.60" stroke="#dcdcdc" stroke-width="0.50" stroke-dasharray="0.6 1.2"/>
<line x1="595.70" y1="627.00" x2="595.70" y2="840.60" stroke="#dcdcdc" stroke-width="0.50" stroke-dasharray="0.6 1.2"/>
<line x1="408.50" y1="662.60" x2="642.50" y2="662.60" stroke="#dcdcdc" stroke-width="0.50" stroke-dasharray="0.6 1.2"/>
<line x1="408.50" y1="698.20" x2="642.50" y2="698.20" stroke="#dcdcdc" stroke-width="0.50" stroke-dasharray="0.6 1.2"/>
<line x1="408.50" y1="733.80" x2="642.50" y2="733.80" stroke="#dcdcdc" stroke-width="0.50" stroke-dasharray="0.6 1.2"/>
<line x1="408.50" y1="769.40" x2="642.50" y2="769.40" stroke="#dcdcdc" stroke-width="0.50" stroke-dasharray="0.6 1.2"/>
<line x1="408.50" y1="805.00" x2="642.50" y2="805.00" stroke="#dcdcdc" stroke-width="0.50" stroke-dasharray="0.6 1.2"/>
<clipPath id="clf"><rect x="408.50" y="627.00" width="234.00" height="213.60"/></clipPath><g clip-path="url(#clf)">
<path d="M408.50 678.41 L409.21 676.84 L410.79 673.28 L412.36 669.72 L413.90 666.16 L415.43 662.60 L416.93 659.04 L418.41 655.48 L419.88 651.92 L421.32 648.36 L422.75 644.80 L424.16 641.24 L425.55 637.68 L426.92 634.12 L428.28 630.56 L429.62 627.00" fill="none" stroke="#ffbd00" stroke-width="3.00" stroke-linecap="butt"/>
<path d="M408.50 729.96 L410.13 726.68 L411.88 723.12 L413.60 719.56 L415.29 716.00 L416.97 712.44 L418.61 708.88 L420.23 705.32 L421.83 701.76 L423.41 698.20 L424.96 694.64 L426.49 691.08 L428.01 687.52 L429.50 683.96 L430.96 680.40 L432.41 676.84 L433.66 673.74" fill="none" stroke="#ffe200" stroke-width="3.00" stroke-linecap="butt"/>
<path d="M444.65 644.68 L445.88 641.24 L447.13 637.68 L448.37 634.12 L449.59 630.56 L450.80 627.00" fill="none" stroke="#ffe200" stroke-width="3.00" stroke-linecap="butt"/>
<text transform="translate(439.29 659.26) rotate(-69.28)" x="0" y="2.95" text-anchor="middle" fill="#000" style="font-size:8.20px">1.9601</text>
<path d="M408.50 781.46 L409.27 780.08 L411.25 776.52 L413.19 772.96 L415.10 769.40 L416.98 765.84 L418.02 763.85" fill="none" stroke="#f7ff08" stroke-width="3.00" stroke-linecap="butt"/>
<path d="M431.63 735.91 L432.60 733.80 L434.20 730.24 L435.78 726.68 L437.33 723.12 L438.86 719.56 L440.37 716.00 L441.86 712.44 L443.32 708.88 L444.76 705.32 L446.19 701.76 L447.59 698.20 L448.97 694.64 L450.33 691.08 L451.68 687.52 L453.00 683.96 L454.31 680.40 L455.60 676.84 L456.87 673.28 L458.12 669.72 L459.36 666.16 L460.58 662.60 L461.79 659.04 L462.98 655.48 L464.15 651.92 L465.31 648.36 L466.45 644.80 L467.58 641.24 L468.69 637.68 L469.79 634.12 L470.88 630.56 L471.95 627.00" fill="none" stroke="#f7ff08" stroke-width="3.00" stroke-linecap="butt"/>
<text transform="translate(425.00 749.96) rotate(-64.03)" x="0" y="2.95" text-anchor="middle" fill="#000" style="font-size:8.20px">1.8516</text>
<path d="M408.50 833.01 L410.47 829.92 L412.70 826.36 L414.89 822.80 L417.04 819.24 L419.14 815.68 L421.21 812.12 L423.24 808.56 L425.23 805.00 L427.19 801.44 L429.11 797.88 L431.00 794.32 L432.86 790.76 L434.68 787.20 L436.47 783.64 L436.91 782.76" fill="none" stroke="#d2ff2d" stroke-width="3.00" stroke-linecap="butt"/>
<path d="M448.18 758.76 L448.20 758.72 L449.76 755.16 L451.31 751.60 L452.82 748.04 L454.32 744.48 L455.79 740.92 L457.23 737.36 L458.66 733.80 L460.06 730.24 L461.45 726.68 L462.81 723.12 L464.15 719.56 L465.47 716.00 L466.77 712.44 L468.05 708.88 L469.32 705.32 L470.56 701.76 L471.79 698.20 L473.00 694.64 L474.20 691.08 L475.37 687.52 L476.53 683.96 L477.68 680.40 L478.81 676.84 L479.92 673.28 L480.97 669.87" fill="none" stroke="#d2ff2d" stroke-width="3.00" stroke-linecap="butt"/>
<path d="M488.42 644.42 L489.30 641.24 L490.28 637.68 L491.24 634.12 L492.19 630.56 L493.13 627.00" fill="none" stroke="#d2ff2d" stroke-width="3.00" stroke-linecap="butt"/>
<text transform="translate(442.67 770.82) rotate(-64.86)" x="0" y="2.95" text-anchor="middle" fill="#000" style="font-size:8.20px">1.743</text>
<text transform="translate(484.77 657.17) rotate(-73.71)" x="0" y="2.95" text-anchor="middle" fill="#000" style="font-size:8.20px">1.743</text>
<path d="M437.39 840.60 L439.42 837.04 L441.41 833.48 L443.37 829.92 L445.28 826.36 L447.16 822.80 L449.00 819.24 L450.81 815.68 L452.58 812.12 L454.33 808.56 L456.04 805.00 L457.72 801.44 L459.37 797.88 L460.99 794.32 L462.58 790.76 L462.96 789.90" fill="none" stroke="#adff52" stroke-width="3.00" stroke-linecap="butt"/>
<path d="M474.80 761.17 L475.74 758.72 L477.09 755.16 L478.41 751.60 L479.72 748.04 L481.00 744.48 L482.26 740.92 L483.50 737.36 L484.72 733.80 L485.93 730.24 L487.11 726.68 L488.28 723.12 L489.43 719.56 L490.57 716.00 L491.68 712.44 L492.79 708.88 L493.87 705.32 L494.94 701.76 L495.99 698.20 L497.03 694.64 L498.06 691.08 L499.07 687.52 L500.06 683.96 L501.05 680.40 L502.01 676.84 L502.58 674.73" fill="none" stroke="#adff52" stroke-width="3.00" stroke-linecap="butt"/>
<path d="M510.22 644.60 L511.02 641.24 L511.86 637.68 L512.68 634.12 L513.50 630.56 L514.31 627.00" fill="none" stroke="#adff52" stroke-width="3.00" stroke-linecap="butt"/>
<text transform="translate(469.05 775.60) rotate(-67.60)" x="0" y="2.95" text-anchor="middle" fill="#000" style="font-size:8.20px">1.6344</text>
<text transform="translate(506.50 659.69) rotate(-75.79)" x="0" y="2.95" text-anchor="middle" fill="#000" style="font-size:8.20px">1.6344</text>
<path d="M471.27 840.60 L472.97 837.04 L474.63 833.48 L476.26 829.92 L477.86 826.36 L479.43 822.80 L480.97 819.24 L482.48 815.68 L483.96 812.12 L485.41 808.56 L486.84 805.00 L488.24 801.44 L489.62 797.88 L490.97 794.32 L492.00 791.58" fill="none" stroke="#88ff77" stroke-width="3.00" stroke-linecap="butt"/>
<path d="M502.17 762.22 L503.29 758.72 L504.41 755.16 L505.52 751.60 L506.61 748.04 L507.68 744.48 L508.73 740.92 L509.77 737.36 L510.79 733.80 L511.79 730.24 L512.78 726.68 L513.76 723.12 L514.72 719.56 L515.67 716.00 L516.60 712.44 L517.52 708.88 L518.42 705.32 L519.32 701.76 L520.20 698.20 L521.06 694.64 L521.92 691.08 L522.76 687.52 L523.59 683.96 L524.41 680.40 L525.22 676.84 L525.74 674.54" fill="none" stroke="#88ff77" stroke-width="3.00" stroke-linecap="butt"/>
<path d="M532.16 644.13 L532.74 641.24 L533.44 637.68 L534.13 634.12 L534.81 630.56 L535.48 627.00" fill="none" stroke="#88ff77" stroke-width="3.00" stroke-linecap="butt"/>
<text transform="translate(497.24 776.95) rotate(-70.91)" x="0" y="2.95" text-anchor="middle" fill="#000" style="font-size:8.20px">1.5258</text>
<text transform="translate(529.04 659.35) rotate(-78.08)" x="0" y="2.95" text-anchor="middle" fill="#000" style="font-size:8.20px">1.5258</text>
<path d="M505.16 840.60 L506.52 837.04 L507.85 833.48 L509.16 829.92 L510.44 826.36 L511.70 822.80 L512.93 819.24 L514.14 815.68 L515.33 812.12 L516.50 808.56 L517.64 805.00 L518.77 801.44 L519.87 797.88 L520.96 794.32 L521.57 792.27" fill="none" stroke="#63ff9c" stroke-width="3.00" stroke-linecap="butt"/>
<path d="M529.91 762.33 L529.92 762.28 L530.84 758.72 L531.74 755.16 L532.63 751.60 L533.50 748.04 L534.36 744.48 L535.20 740.92 L536.03 737.36 L536.85 733.80 L537.66 730.24 L538.45 726.68 L539.24 723.12 L540.01 719.56 L540.76 716.00 L541.51 712.44 L542.25 708.88 L542.98 705.32 L543.69 701.76 L544.40 698.20 L545.09 694.64 L545.78 691.08 L546.46 687.52 L547.12 683.96 L547.78 680.40 L548.43 676.84 L548.87 674.37" fill="none" stroke="#63ff9c" stroke-width="3.00" stroke-linecap="butt"/>
<path d="M554.06 643.73 L554.46 641.24 L555.02 637.68 L555.57 634.12 L556.12 630.56 L556.66 627.00" fill="none" stroke="#63ff9c" stroke-width="3.00" stroke-linecap="butt"/>
<text transform="translate(525.88 777.34) rotate(-74.46)" x="0" y="2.95" text-anchor="middle" fill="#000" style="font-size:8.20px">1.4172</text>
<text transform="translate(551.54 659.06) rotate(-80.40)" x="0" y="2.95" text-anchor="middle" fill="#000" style="font-size:8.20px">1.4172</text>
<path d="M539.04 840.60 L540.07 837.04 L541.07 833.48 L542.05 829.92 L543.02 826.36 L543.97 822.80 L544.90 819.24 L545.81 815.68 L546.70 812.12 L547.58 808.56 L548.45 805.00 L549.29 801.44 L550.13 797.88 L550.94 794.32 L551.00 794.08" fill="none" stroke="#3effc1" stroke-width="3.00" stroke-linecap="butt"/>
<path d="M557.42 763.68 L557.70 762.28 L558.39 758.72 L559.07 755.16 L559.73 751.60 L560.39 748.04 L561.04 744.48 L561.67 740.92 L562.30 737.36 L562.92 733.80 L563.52 730.24 L564.12 726.68 L564.71 723.12 L565.29 719.56 L565.86 716.00 L566.43 712.44 L566.98 708.88 L567.53 705.32 L568.07 701.76 L568.60 698.20 L569.12 694.64 L569.64 691.08 L570.15 687.52 L570.65 683.96 L571.15 680.40 L571.64 676.84 L572.06 673.70" fill="none" stroke="#3effc1" stroke-width="3.00" stroke-linecap="butt"/>
<path d="M575.98 642.87 L576.18 641.24 L576.60 637.68 L577.02 634.12 L577.43 630.56 L577.84 627.00" fill="none" stroke="#3effc1" stroke-width="3.00" stroke-linecap="butt"/>
<text transform="translate(554.32 778.91) rotate(-78.07)" x="0" y="2.95" text-anchor="middle" fill="#000" style="font-size:8.20px">1.3086</text>
<text transform="translate(574.08 658.29) rotate(-82.75)" x="0" y="2.95" text-anchor="middle" fill="#000" style="font-size:8.20px">1.3086</text>
<path d="M572.92 840.60 L573.61 837.04 L574.29 833.48 L574.95 829.92 L575.60 826.36 L576.24 822.80 L576.86 819.24 L577.48 815.68 L578.08 812.12 L578.67 808.56 L579.25 805.00 L579.82 801.44 L580.38 797.88 L580.93 794.32 L581.47 790.76 L582.00 787.20 L582.52 783.64 L582.79 781.77" fill="none" stroke="#19ffe6" stroke-width="3.00" stroke-linecap="butt"/>
<path d="M585.17 764.53 L585.47 762.28 L585.93 758.72 L586.39 755.16 L586.84 751.60 L587.28 748.04 L587.72 744.48 L588.14 740.92 L588.57 737.36 L588.98 733.80 L589.39 730.24 L589.79 726.68 L590.19 723.12 L590.58 719.56 L590.96 716.00 L591.34 712.44 L591.71 708.88 L592.08 705.32 L592.45 701.76 L592.80 698.20 L593.16 694.64 L593.50 691.08 L593.85 687.52 L594.18 683.96 L594.52 680.40 L594.85 676.84 L595.17 673.28 L595.49 669.72 L595.80 666.16 L596.12 662.60 L596.31 660.35" fill="none" stroke="#19ffe6" stroke-width="3.00" stroke-linecap="butt"/>
<path d="M597.76 643.01 L597.90 641.24 L598.18 637.68 L598.46 634.12 L598.74 630.56 L599.01 627.00" fill="none" stroke="#19ffe6" stroke-width="3.00" stroke-linecap="butt"/>
<text transform="translate(584.01 773.15) rotate(-82.14)" x="0" y="2.95" text-anchor="middle" fill="#000" style="font-size:8.20px">1.2</text>
<text transform="translate(597.05 651.68) rotate(-85.23)" x="0" y="2.95" text-anchor="middle" fill="#000" style="font-size:8.20px">1.2</text>
<path d="M606.81 840.60 L607.16 837.04 L607.51 833.48 L607.85 829.92 L608.18 826.36 L608.51 822.80 L608.83 819.24 L609.14 815.68 L609.45 812.12 L609.75 808.56 L610.05 805.00 L610.34 801.44 L610.63 797.88 L610.79 795.85" fill="none" stroke="#00f4ff" stroke-width="3.00" stroke-linecap="butt"/>
<path d="M613.07 764.85 L613.24 762.28 L613.48 758.72 L613.72 755.16 L613.95 751.60 L614.17 748.04 L614.40 744.48 L614.62 740.92 L614.83 737.36 L615.04 733.80 L615.25 730.24 L615.46 726.68 L615.66 723.12 L615.86 719.56 L616.06 716.00 L616.26 712.44 L616.45 708.88 L616.64 705.32 L616.82 701.76 L617.01 698.20 L617.19 694.64 L617.36 691.08 L617.54 687.52 L617.71 683.96 L617.88 680.40 L618.05 676.84 L618.18 674.07" fill="none" stroke="#00f4ff" stroke-width="3.00" stroke-linecap="butt"/>
<path d="M619.55 643.02 L619.62 641.24 L619.77 637.68 L619.91 634.12 L620.05 630.56 L620.19 627.00" fill="none" stroke="#00f4ff" stroke-width="3.00" stroke-linecap="butt"/>
<text transform="translate(611.97 780.35) rotate(-85.81)" x="0" y="2.95" text-anchor="middle" fill="#000" style="font-size:8.20px">1.0914</text>
<text transform="translate(618.88 658.55) rotate(-87.49)" x="0" y="2.95" text-anchor="middle" fill="#000" style="font-size:8.20px">1.0914</text>
</g>
<rect x="408.50" y="627.00" width="234.00" height="213.60" fill="none" stroke="#1c1c1c" stroke-width="0.9"/>
<line x1="408.50" y1="840.60" x2="408.50" y2="838.30" stroke="#2a2a2a" stroke-width="0.60" />
<line x1="408.50" y1="627.00" x2="408.50" y2="629.30" stroke="#2a2a2a" stroke-width="0.60" />
<text x="408.50" y="854.90" text-anchor="middle" fill="#0d0d0d" style="font-size:10.00px;" >0.5</text>
<line x1="455.30" y1="840.60" x2="455.30" y2="838.30" stroke="#2a2a2a" stroke-width="0.60" />
<line x1="455.30" y1="627.00" x2="455.30" y2="629.30" stroke="#2a2a2a" stroke-width="0.60" />
<text x="455.30" y="854.90" text-anchor="middle" fill="#0d0d0d" style="font-size:10.00px;" >0.6</text>
<line x1="502.10" y1="840.60" x2="502.10" y2="838.30" stroke="#2a2a2a" stroke-width="0.60" />
<line x1="502.10" y1="627.00" x2="502.10" y2="629.30" stroke="#2a2a2a" stroke-width="0.60" />
<text x="502.10" y="854.90" text-anchor="middle" fill="#0d0d0d" style="font-size:10.00px;" >0.7</text>
<line x1="548.90" y1="840.60" x2="548.90" y2="838.30" stroke="#2a2a2a" stroke-width="0.60" />
<line x1="548.90" y1="627.00" x2="548.90" y2="629.30" stroke="#2a2a2a" stroke-width="0.60" />
<text x="548.90" y="854.90" text-anchor="middle" fill="#0d0d0d" style="font-size:10.00px;" >0.8</text>
<line x1="595.70" y1="840.60" x2="595.70" y2="838.30" stroke="#2a2a2a" stroke-width="0.60" />
<line x1="595.70" y1="627.00" x2="595.70" y2="629.30" stroke="#2a2a2a" stroke-width="0.60" />
<text x="595.70" y="854.90" text-anchor="middle" fill="#0d0d0d" style="font-size:10.00px;" >0.9</text>
<line x1="642.50" y1="840.60" x2="642.50" y2="838.30" stroke="#2a2a2a" stroke-width="0.60" />
<line x1="642.50" y1="627.00" x2="642.50" y2="629.30" stroke="#2a2a2a" stroke-width="0.60" />
<text x="642.50" y="854.90" text-anchor="middle" fill="#0d0d0d" style="font-size:10.00px;" >1</text>
<line x1="408.50" y1="627.00" x2="410.80" y2="627.00" stroke="#2a2a2a" stroke-width="0.60" />
<line x1="642.50" y1="627.00" x2="640.20" y2="627.00" stroke="#2a2a2a" stroke-width="0.60" />
<text x="404.90" y="631.50" text-anchor="end" fill="#0d0d0d" style="font-size:10.00px;" >80</text>
<line x1="408.50" y1="662.60" x2="410.80" y2="662.60" stroke="#2a2a2a" stroke-width="0.60" />
<line x1="642.50" y1="662.60" x2="640.20" y2="662.60" stroke="#2a2a2a" stroke-width="0.60" />
<text x="404.90" y="667.10" text-anchor="end" fill="#0d0d0d" style="font-size:10.00px;" >75</text>
<line x1="408.50" y1="698.20" x2="410.80" y2="698.20" stroke="#2a2a2a" stroke-width="0.60" />
<line x1="642.50" y1="698.20" x2="640.20" y2="698.20" stroke="#2a2a2a" stroke-width="0.60" />
<text x="404.90" y="702.70" text-anchor="end" fill="#0d0d0d" style="font-size:10.00px;" >70</text>
<line x1="408.50" y1="733.80" x2="410.80" y2="733.80" stroke="#2a2a2a" stroke-width="0.60" />
<line x1="642.50" y1="733.80" x2="640.20" y2="733.80" stroke="#2a2a2a" stroke-width="0.60" />
<text x="404.90" y="738.30" text-anchor="end" fill="#0d0d0d" style="font-size:10.00px;" >65</text>
<line x1="408.50" y1="769.40" x2="410.80" y2="769.40" stroke="#2a2a2a" stroke-width="0.60" />
<line x1="642.50" y1="769.40" x2="640.20" y2="769.40" stroke="#2a2a2a" stroke-width="0.60" />
<text x="404.90" y="773.90" text-anchor="end" fill="#0d0d0d" style="font-size:10.00px;" >60</text>
<line x1="408.50" y1="805.00" x2="410.80" y2="805.00" stroke="#2a2a2a" stroke-width="0.60" />
<line x1="642.50" y1="805.00" x2="640.20" y2="805.00" stroke="#2a2a2a" stroke-width="0.60" />
<text x="404.90" y="809.50" text-anchor="end" fill="#0d0d0d" style="font-size:10.00px;" >55</text>
<line x1="408.50" y1="840.60" x2="410.80" y2="840.60" stroke="#2a2a2a" stroke-width="0.60" />
<line x1="642.50" y1="840.60" x2="640.20" y2="840.60" stroke="#2a2a2a" stroke-width="0.60" />
<text x="404.90" y="845.10" text-anchor="end" fill="#0d0d0d" style="font-size:10.00px;" >50</text>
<text x="525.50" y="618.50" text-anchor="middle" fill="#0d0d0d" style="font-size:11.20px;font-weight:bold;" >Contour Plot of R<tspan dy="2.8" font-size="8.2">0</tspan><tspan dy="-2.8"> for b vs c</tspan><tspan dy="2.8" font-size="8.2">mm</tspan></text>
<text x="525.50" y="869.80" text-anchor="middle" fill="#0d0d0d" style="font-size:11.50px;font-weight:bold;" >b</text>
<text transform="translate(384.5 733.5) rotate(-90)" text-anchor="middle" fill="#0d0d0d" style="font-weight:bold;font-size:11.5px">c<tspan dy="2.8" font-size="8.2">mm</tspan></text>
<text x="539.50" y="889.70" text-anchor="middle" fill="#0d0d0d" style="font-size:12.40px;font-family:'Liberation Serif',serif;" letter-spacing="0.5">(f)</text>
<rect x="655.80" y="627.00" width="13.60" height="213.60" fill="url(#cb)"/>
<rect x="655.80" y="627.00" width="13.60" height="213.60" fill="none" stroke="#404040" stroke-width="0.5"/>
<line x1="667.40" y1="627.00" x2="669.40" y2="627.00" stroke="#1a1a1a" stroke-width="0.60" />
<text x="672.80" y="631.00" text-anchor="start" fill="#0d0d0d" style="font-size:10.00px;" >3</text>
<line x1="667.40" y1="662.60" x2="669.40" y2="662.60" stroke="#1a1a1a" stroke-width="0.60" />
<text x="672.80" y="666.60" text-anchor="start" fill="#0d0d0d" style="font-size:10.00px;" >2.5</text>
<line x1="667.40" y1="698.20" x2="669.40" y2="698.20" stroke="#1a1a1a" stroke-width="0.60" />
<text x="672.80" y="702.20" text-anchor="start" fill="#0d0d0d" style="font-size:10.00px;" >2</text>
<line x1="667.40" y1="733.80" x2="669.40" y2="733.80" stroke="#1a1a1a" stroke-width="0.60" />
<text x="672.80" y="737.80" text-anchor="start" fill="#0d0d0d" style="font-size:10.00px;" >1.5</text>
<line x1="667.40" y1="769.40" x2="669.40" y2="769.40" stroke="#1a1a1a" stroke-width="0.60" />
<text x="672.80" y="773.40" text-anchor="start" fill="#0d0d0d" style="font-size:10.00px;" >1</text>
<line x1="667.40" y1="805.00" x2="669.40" y2="805.00" stroke="#1a1a1a" stroke-width="0.60" />
<text x="672.80" y="809.00" text-anchor="start" fill="#0d0d0d" style="font-size:10.00px;" >0.5</text>
<line x1="667.40" y1="840.60" x2="669.40" y2="840.60" stroke="#1a1a1a" stroke-width="0.60" />
<text x="672.80" y="844.60" text-anchor="start" fill="#0d0d0d" style="font-size:10.00px;" >0</text></svg></body></html>
